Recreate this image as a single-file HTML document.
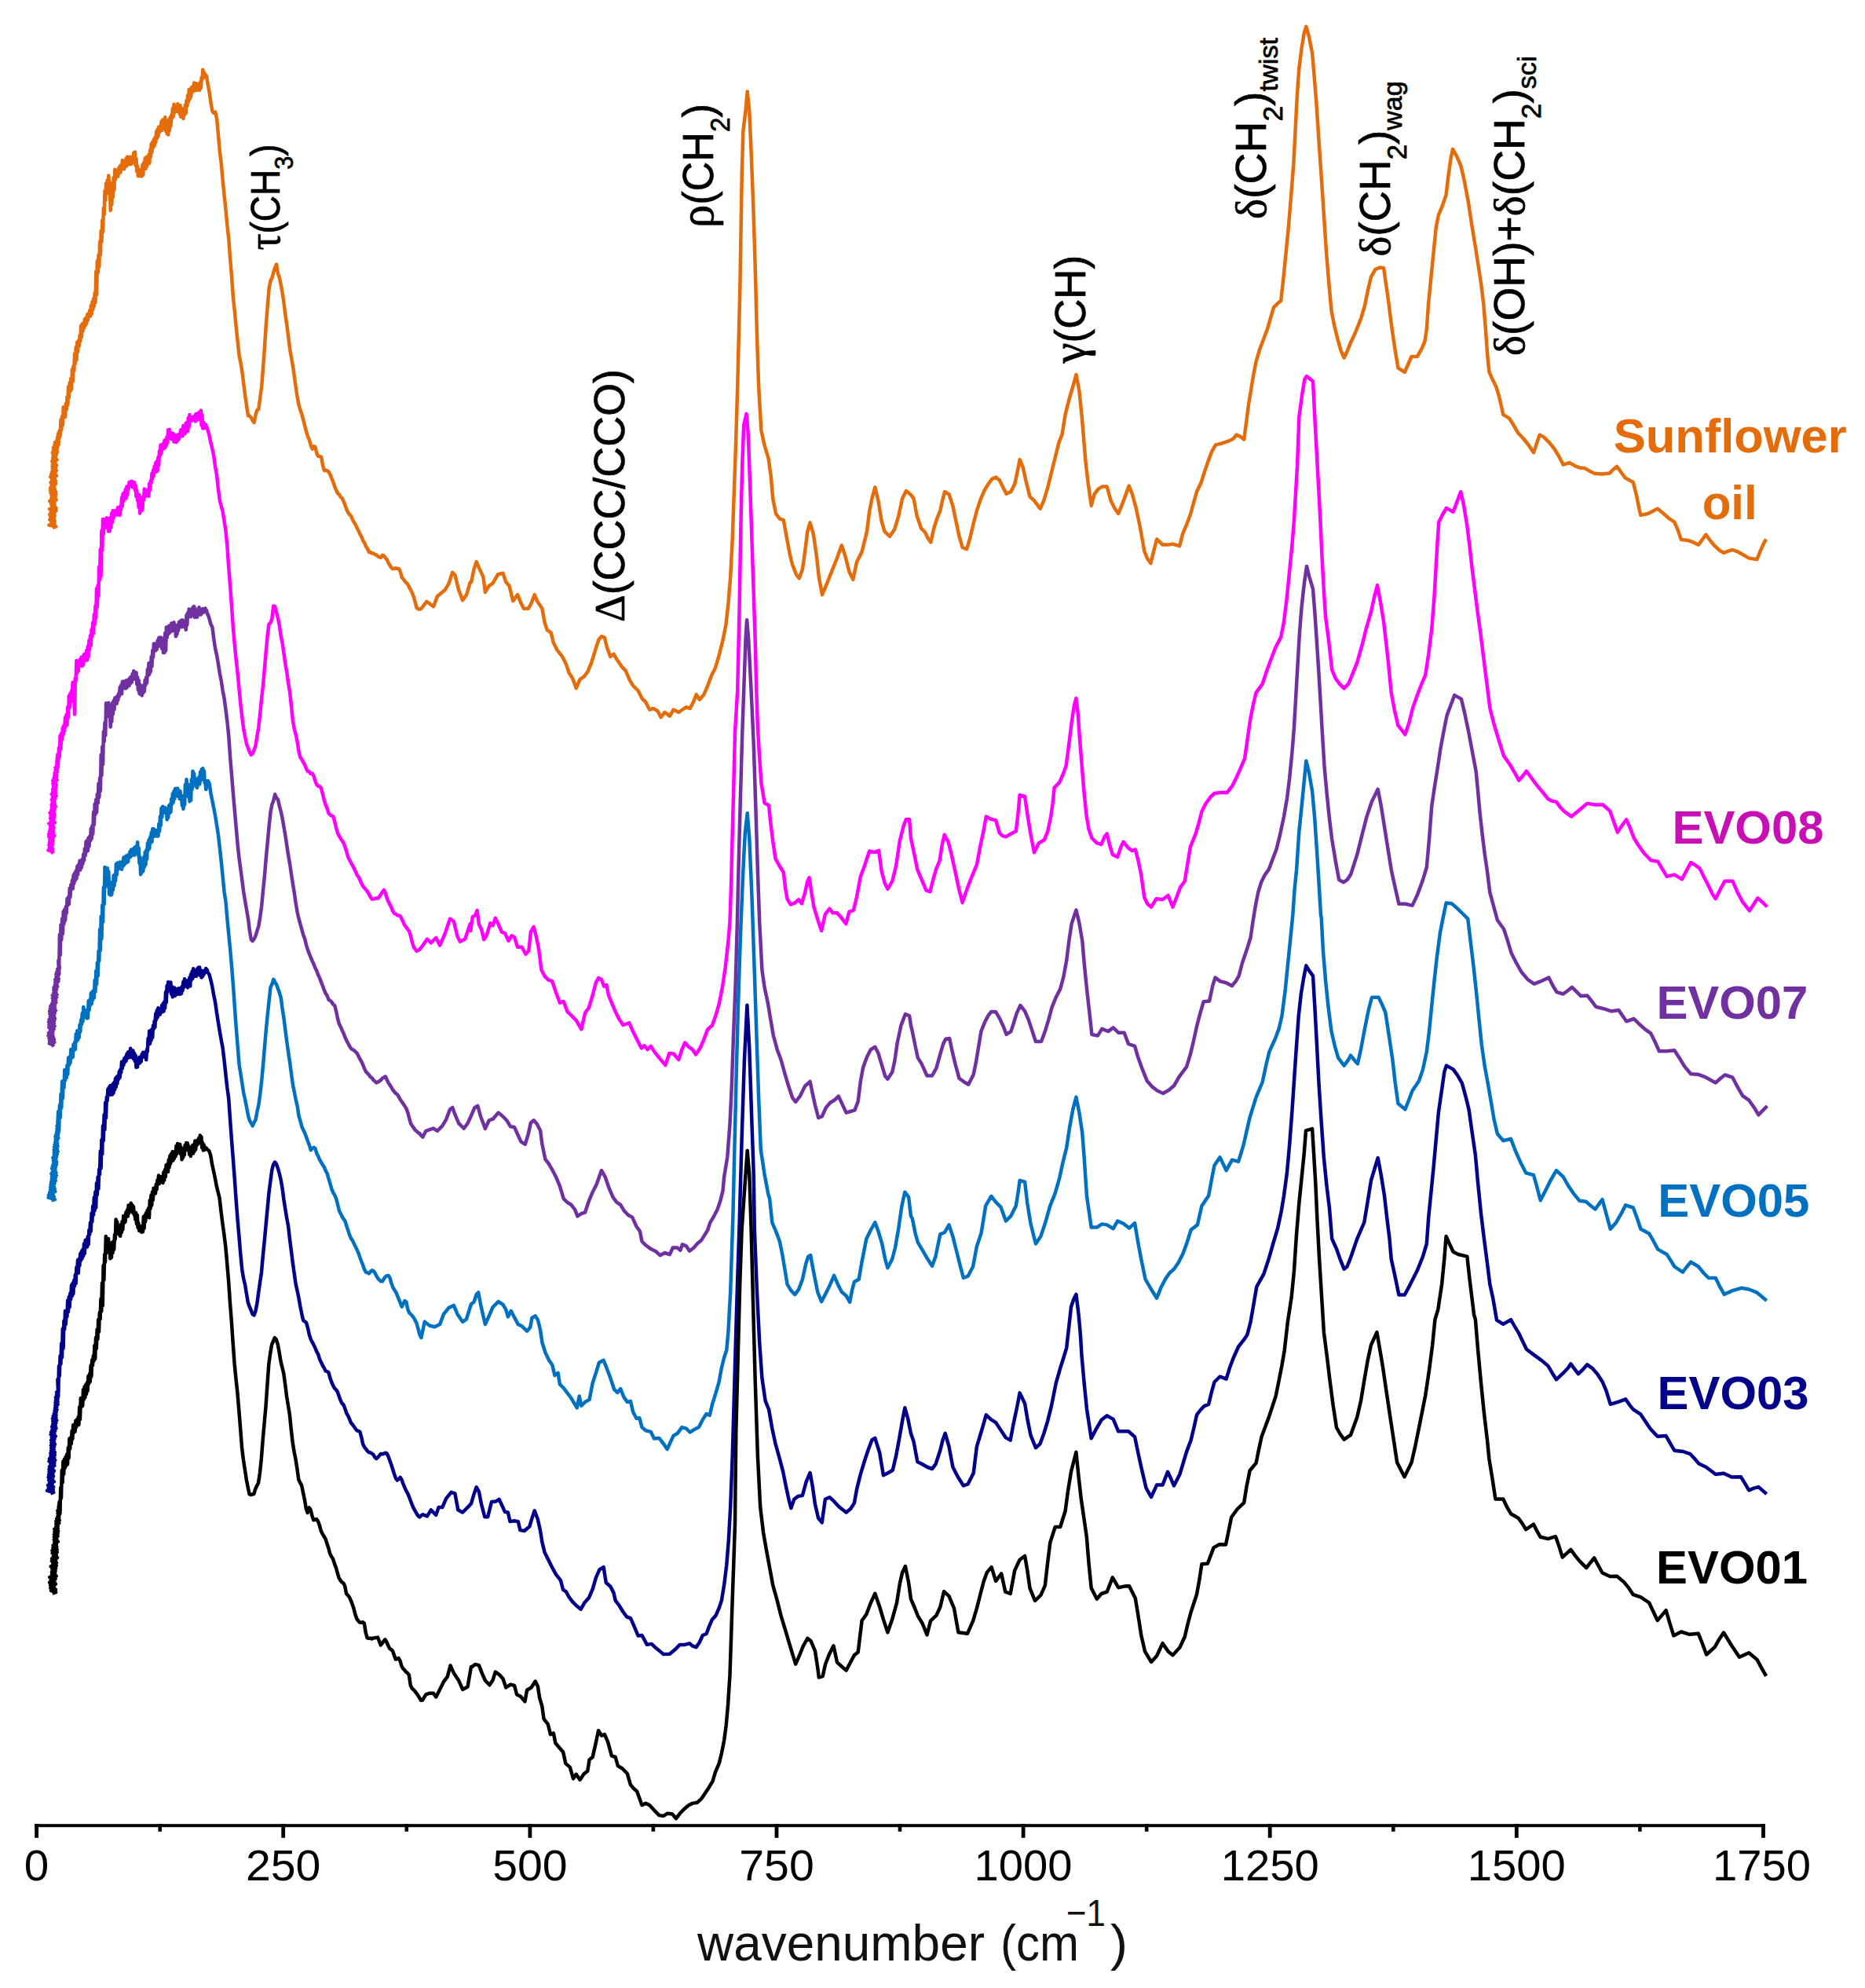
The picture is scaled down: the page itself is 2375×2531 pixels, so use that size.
<!DOCTYPE html>
<html><head><meta charset="utf-8"><title>Raman spectra</title><style>
html,body{margin:0;padding:0;background:#fff}
body{width:2375px;height:2531px;overflow:hidden}
svg{display:block;font-family:"Liberation Sans",sans-serif}
</style></head><body><svg width="2375" height="2531" viewBox="0 0 2375 2531">
<rect width="2375" height="2531" fill="#fff"/>
<g id="curves">
<path d="M66.9 672.0 L71.2 670.4 L62.4 668.5 L69.6 666.9 L65.2 665.2 L69.8 663.6 L63.3 661.7 L69.0 660.1 L64.2 658.3 L69.6 656.7 L63.2 654.9 L69.6 653.3 L64.7 651.6 L71.5 650.0 L63.0 648.1 L71.5 646.6 L65.8 644.8 L69.7 643.1 L64.9 641.4 L69.5 639.7 L63.2 637.9 L71.8 636.4 L65.3 634.6 L70.7 633.0 L65.6 631.2 L71.3 629.6 L64.5 627.7 L71.1 626.2 L64.1 624.3 L69.8 622.7 L64.2 620.9 L69.4 619.3 L65.5 617.6 L70.9 616.0 L64.5 614.1 L71.0 612.6 L66.0 610.8 L69.9 609.1 L64.2 607.3 L72.1 605.8 L65.1 604.0 L70.4 602.4 L66.2 600.6 L71.9 599.0 L66.8 597.2 L71.0 595.6 L66.6 593.8 L72.0 592.2 L66.8 590.4 L70.4 588.8 L66.3 587.0 L72.6 585.4 L67.1 583.3 L70.9 582.3 L67.7 580.0 L71.8 579.0 L66.8 576.4 L73.0 575.8 L67.9 573.1 L72.8 572.3 L68.0 569.7 L73.5 568.9 L69.4 566.2 L74.8 566.0 L70.2 562.9 L75.1 562.5 L72.6 560.1 L75.2 559.0 L73.1 556.7 L76.5 555.9 L73.9 553.4 L75.9 548.3 L76.7 553.3 L77.5 534.3 L78.3 547.2 L79.1 530.1 L79.9 541.2 L80.7 518.3 L81.5 530.1 L82.3 519.5 L83.1 530.8 L83.9 513.7 L84.7 521.3 L85.5 505.2 L86.3 515.7 L87.1 492.3 L87.9 506.1 L88.7 487.3 L89.5 498.1 L90.3 481.8 L91.1 495.8 L91.9 470.3 L92.7 485.8 L93.5 465.9 L94.3 472.2 L95.1 450.3 L95.9 463.2 L96.7 442.0 L97.5 458.6 L98.3 435.4 L99.1 448.1 L99.9 433.8 L100.7 440.5 L101.5 427.1 L102.3 434.4 L103.1 414.6 L103.9 429.1 L104.7 412.3 L105.5 421.6 L106.3 411.5 L107.1 417.5 L107.9 406.2 L108.7 414.2 L109.5 404.6 L110.3 411.8 L111.1 400.6 L111.9 407.6 L112.7 399.1 L113.5 402.4 L114.3 394.9 L115.1 402.6 L115.9 389.0 L116.7 399.7 L117.5 384.2 L118.3 394.0 L119.1 380.2 L119.9 389.9 L120.7 372.9 L121.5 385.2 L122.3 345.6 L123.1 375.1 L123.9 332.2 L124.7 347.1 L125.5 324.7 L126.3 339.6 L127.1 307.5 L127.9 324.6 L128.7 293.9 L129.5 308.0 L130.3 280.6 L131.1 295.1 L131.9 264.9 L132.7 273.3 L133.5 242.7 L134.3 255.2 L135.1 233.5 L135.9 246.7 L136.7 229.3 L137.5 236.7 L138.3 223.6 L139.1 234.5 L139.9 235.2 L140.7 268.0 L141.5 247.7 L142.3 260.5 L143.1 232.6 L143.9 250.9 L144.7 226.0 L145.5 241.9 L146.3 215.7 L147.1 228.1 L147.9 217.6 L148.7 224.7 L149.5 218.5 L150.3 224.5 L151.1 213.9 L151.9 220.6 L152.7 211.2 L153.5 219.5 L154.3 210.0 L155.1 215.1 L155.9 204.0 L156.7 213.3 L157.5 205.7 L158.3 215.3 L159.1 206.1 L159.9 209.4 L160.7 201.4 L161.5 211.2 L162.3 199.6 L163.1 206.8 L163.9 200.2 L164.7 209.1 L165.5 199.8 L166.3 209.0 L167.1 202.8 L167.9 208.5 L168.7 199.7 L169.5 203.6 L170.3 194.4 L171.1 199.1 L171.9 193.4 L172.7 211.0 L173.5 202.3 L174.3 218.4 L175.1 211.2 L175.9 224.2 L176.7 216.7 L177.5 223.2 L178.3 216.1 L179.1 224.3 L179.9 216.0 L180.7 224.4 L181.5 209.8 L182.3 222.7 L183.1 207.2 L183.9 213.7 L184.7 201.6 L185.5 214.8 L186.3 200.1 L187.1 211.7 L187.9 201.1 L188.7 206.2 L189.5 196.8 L190.3 207.9 L191.1 191.1 L191.9 199.7 L192.7 183.3 L193.5 193.9 L194.3 180.6 L195.1 187.9 L195.9 177.4 L196.7 185.5 L197.5 175.0 L198.3 181.4 L199.1 167.6 L199.9 176.0 L200.7 164.4 L201.5 173.6 L202.3 161.4 L203.1 168.3 L203.9 160.7 L204.7 165.5 L205.5 154.8 L206.3 166.0 L207.1 152.5 L207.9 162.3 L208.7 153.1 L209.5 160.8 L210.3 149.3 L211.1 167.0 L211.9 160.2 L212.7 170.3 L213.5 161.1 L214.3 171.6 L215.1 152.2 L215.9 166.1 L216.7 149.4 L217.5 160.4 L218.3 146.3 L219.1 150.8 L219.9 138.2 L220.7 148.4 L221.5 132.7 L222.3 143.6 L223.1 136.6 L223.9 142.0 L224.7 135.5 L225.5 140.1 L226.3 132.2 L227.1 142.3 L227.9 134.8 L228.7 145.4 L229.5 134.1 L230.3 148.8 L231.1 137.9 L231.9 147.5 L232.7 140.8 L233.5 151.0 L234.3 138.4 L235.1 146.1 L235.9 133.8 L236.7 144.2 L237.5 128.1 L238.3 135.2 L239.1 121.5 L239.9 129.8 L240.7 114.1 L241.5 126.7 L242.3 113.7 L243.1 123.2 L243.9 111.2 L244.7 117.4 L245.5 109.9 L246.3 115.8 L247.1 105.5 L247.9 115.4 L248.7 106.5 L249.5 112.1 L250.3 106.2 L251.1 114.7 L251.9 108.6 L252.7 113.7 L253.5 107.6 L254.3 114.7 L255.1 104.4 L255.9 111.9 L256.7 98.5 L257.5 101.2 L258.3 88.8 L259.1 95.7 L259.9 92.0 L260.7 98.5 L261.5 94.6 L262.3 98.0 L263.1 96.8 L263.9 102.9 L264.7 107.3 L266.6 117.1 L268.5 130.6 L270.4 141.4 L272.3 143.9 L274.2 142.6 L276.1 151.2 L278.0 171.9 L279.9 193.4 L281.8 208.2 L283.7 230.1 L285.6 249.0 L287.5 266.8 L289.4 287.1 L291.3 304.7 L293.2 329.9 L295.1 352.9 L297.0 379.0 L298.9 396.9 L300.8 417.2 L302.7 435.0 L304.6 452.7 L306.5 462.0 L308.4 473.6 L310.3 489.1 L312.2 503.8 L314.1 516.7 L316.0 529.3 L317.9 529.5 L319.8 531.8 L321.7 535.5 L323.6 537.9 L325.5 528.0 L327.4 522.1 L329.3 520.9 L331.2 507.0 L333.1 492.8 L335.0 469.2 L336.9 443.0 L338.8 413.6 L340.7 389.8 L342.6 367.2 L344.5 357.6 L346.4 353.9 L348.3 346.7 L350.2 340.8 L352.1 336.5 L354.0 348.6 L355.9 353.8 L357.8 363.0 L359.7 373.3 L361.6 386.5 L363.5 401.7 L365.4 414.5 L367.3 429.4 L369.2 444.6 L371.1 455.6 L373.0 466.4 L374.9 479.8 L376.8 493.8 L378.7 506.0 L380.6 515.9 L382.5 522.2 L384.4 527.6 L386.3 534.8 L388.2 542.1 L390.1 549.4 L392.0 555.9 L393.9 560.0 L395.8 567.4 L397.7 571.7 L399.6 568.1 L401.5 569.2 L403.4 577.6 L405.3 580.7 L407.2 581.1 L409.1 581.7 L411.0 592.1 L412.9 598.9 L414.8 598.7 L416.7 599.1 L418.6 600.8 L420.5 604.1 L422.4 609.1 L424.3 613.5 L426.2 619.5 L428.1 623.9 L430.0 628.0 L431.9 629.4 L433.8 632.8 L435.7 634.3 L437.6 638.4 L439.5 643.2 L441.4 648.5 L443.3 652.7 L445.2 655.2 L447.1 656.9 L449.0 661.6 L450.9 665.0 L452.8 668.1 L454.7 672.3 L456.6 675.9 L458.5 680.0 L460.4 683.5 L462.3 688.4 L464.2 691.1 L466.1 695.9 L468.0 698.5 L469.9 703.0 L471.8 703.0 L473.7 704.6 L475.6 704.6 L477.5 705.9 L479.4 706.5 L481.3 708.3 L483.2 709.4 L485.1 709.9 L487.0 706.8 L488.9 707.5 L490.8 710.2 L492.7 712.5 L494.6 716.6 L496.5 719.8 L498.4 722.7 L500.3 724.3 L502.2 723.8 L504.1 723.6 L506.0 723.7 L507.9 724.1 L509.8 727.8 L511.7 735.1 L513.6 737.0 L515.5 740.0 L517.4 741.9 L519.3 744.0 L521.2 747.7 L523.1 751.3 L525.0 755.0 L526.9 760.1 L528.8 767.2 L530.7 774.1 L532.6 775.2 L534.5 775.7 L536.4 774.6 L538.3 772.4 L543.3 765.8 L552.0 772.2 L556.9 759.3 L566.5 751.3 L571.4 743.2 L576.2 728.8 L579.4 732.0 L584.2 751.3 L589.1 764.2 L593.9 757.7 L598.7 741.6 L600.2 741.0 L603.5 724.9 L606.7 715.2 L610.9 724.9 L615.4 734.5 L617.9 753.9 L622.8 745.8 L627.6 742.6 L634.0 731.3 L640.5 729.7 L644.3 741.0 L648.5 745.8 L653.3 765.1 L659.1 757.1 L663.0 766.7 L666.9 774.8 L672.7 774.8 L676.5 768.3 L680.7 757.1 L683.9 765.1 L690.4 774.8 L693.6 792.5 L696.8 802.1 L701.6 805.4 L704.8 818.2 L709.7 827.9 L716.1 835.9 L720.9 845.6 L724.8 856.9 L729.0 863.3 L733.8 876.2 L738.6 864.9 L743.5 861.7 L748.3 855.3 L753.1 844.0 L758.0 827.9 L762.1 815.0 L766.0 810.2 L769.9 811.8 L773.1 824.7 L777.3 835.9 L781.5 832.7 L785.3 839.2 L791.8 848.8 L796.6 853.6 L801.4 864.9 L806.2 873.0 L812.7 879.4 L817.5 889.1 L822.3 893.9 L827.2 903.5 L832.0 901.9 L837.5 905.2 L841.7 913.2 L846.5 906.8 L852.9 911.6 L857.7 903.5 L864.2 906.8 L869.0 903.5 L873.8 900.3 L878.7 901.9 L882.9 893.9 L886.7 884.2 L890.9 890.7 L896.4 884.2 L901.2 873.0 L906.0 860.1 L910.9 850.4 L915.7 834.3 L920.5 815.0 L924.4 795.7 L927.6 766.7 L930.2 734.5 L932.7 686.3 L935.0 621.9 L937.3 557.5 L939.2 493.1 L940.8 428.8 L942.4 364.4 L944.7 225.3 L946.3 167.4 L949.5 141.6 L951.7 116.5 L954.3 141.6 L956.6 193.1 L959.1 257.5 L960.8 309.0 L962.4 364.4 L964.0 428.8 L966.2 493.1 L969.4 547.9 L973.6 567.2 L978.5 583.3 L981.7 605.8 L984.2 634.8 L988.1 654.1 L992.9 660.5 L997.8 662.1 L1001.6 683.0 L1005.8 705.6 L1009.0 718.5 L1013.9 731.3 L1017.7 736.2 L1021.9 724.9 L1025.1 702.4 L1028.3 676.6 L1031.6 665.3 L1035.8 679.8 L1039.6 705.6 L1042.8 734.5 L1047.0 757.1 L1052.5 744.2 L1058.9 728.1 L1065.4 712.0 L1071.8 694.3 L1076.6 708.8 L1081.5 728.1 L1086.3 737.8 L1091.1 715.2 L1097.6 702.4 L1104.0 676.6 L1107.2 650.9 L1110.4 634.8 L1114.3 620.3 L1118.5 638.0 L1122.7 663.7 L1126.5 676.6 L1133.0 683.0 L1139.4 673.4 L1144.2 657.3 L1149.1 634.8 L1153.9 625.1 L1160.0 629.9 L1163.5 634.7 L1167.6 656.6 L1173.1 672.7 L1177.9 677.5 L1181.8 685.5 L1185.3 690.4 L1189.2 672.7 L1193.4 659.8 L1197.3 650.1 L1200.5 635.6 L1203.0 626.0 L1208.5 629.2 L1213.3 643.7 L1216.6 659.8 L1221.4 682.3 L1225.6 696.8 L1231.1 699.1 L1235.2 685.5 L1239.7 666.2 L1243.9 650.1 L1248.8 635.6 L1253.6 624.4 L1258.4 616.3 L1263.2 609.9 L1268.1 607.6 L1272.9 611.5 L1277.7 621.2 L1281.6 628.6 L1287.4 626.0 L1292.2 616.3 L1295.4 601.8 L1298.6 585.1 L1302.8 595.4 L1306.7 613.1 L1311.5 632.4 L1317.0 637.3 L1324.7 647.6 L1329.2 637.3 L1334.1 621.2 L1338.9 601.8 L1343.7 582.5 L1348.5 563.2 L1352.4 553.6 L1356.6 527.9 L1361.4 508.6 L1366.2 492.5 L1370.4 477.0 L1374.3 497.3 L1377.5 527.9 L1379.4 550.4 L1382.3 585.8 L1385.6 614.7 L1389.7 643.7 L1393.6 629.2 L1398.4 622.8 L1403.3 619.5 L1409.7 619.5 L1414.5 637.3 L1419.4 646.9 L1424.2 654.0 L1429.0 642.1 L1433.8 629.2 L1437.7 618.6 L1441.9 629.2 L1446.7 646.9 L1451.5 669.4 L1457.3 701.6 L1461.2 711.3 L1465.4 717.1 L1469.2 701.6 L1473.1 686.5 L1477.3 690.4 L1480.5 693.6 L1487.0 693.6 L1493.4 692.6 L1502.1 695.2 L1506.3 679.1 L1511.1 667.8 L1515.9 655.0 L1520.8 637.3 L1524.0 626.0 L1529.4 614.7 L1533.6 601.8 L1538.5 587.4 L1543.3 574.5 L1548.1 566.4 L1554.5 564.9 L1564.2 561.7 L1570.6 558.5 L1574.5 553.6 L1578.7 555.3 L1584.2 559.4 L1586.7 540.8 L1590.0 515.0 L1593.2 495.7 L1596.4 476.4 L1599.6 460.3 L1604.4 444.2 L1609.3 431.3 L1614.1 418.5 L1618.3 404.0 L1622.1 391.1 L1627.0 386.3 L1631.2 383.0 L1634.4 354.1 L1637.6 321.9 L1640.8 289.7 L1644.0 251.1 L1647.3 209.2 L1649.5 167.4 L1651.8 122.3 L1654.3 86.9 L1657.6 61.2 L1660.8 41.8 L1663.3 33.8 L1666.6 45.1 L1671.1 67.6 L1673.6 96.6 L1676.2 128.8 L1679.4 177.0 L1682.7 225.3 L1685.9 273.6 L1689.1 321.9 L1692.3 360.5 L1695.5 395.9 L1699.4 415.2 L1703.3 431.3 L1707.4 445.8 L1711.6 455.5 L1715.5 447.4 L1720.0 436.2 L1726.7 421.7 L1733.1 405.6 L1737.9 389.5 L1741.8 370.2 L1746.0 352.5 L1751.5 342.8 L1757.3 340.6 L1762.1 341.2 L1765.3 363.7 L1768.5 386.3 L1771.7 412.0 L1775.9 441.0 L1780.4 468.3 L1788.8 473.8 L1793.3 463.5 L1797.5 453.9 L1804.9 453.9 L1810.4 444.2 L1814.5 434.5 L1816.8 418.5 L1819.1 386.3 L1822.3 354.1 L1825.5 321.9 L1828.7 289.7 L1831.9 273.6 L1836.1 263.9 L1841.6 247.9 L1844.2 225.3 L1847.4 202.8 L1850.0 189.9 L1855.4 199.6 L1860.3 210.8 L1865.1 231.8 L1869.9 257.5 L1873.8 283.3 L1878.0 309.0 L1882.1 334.8 L1886.0 360.5 L1889.2 386.3 L1891.8 418.5 L1894.1 450.6 L1896.3 473.2 L1900.5 482.8 L1905.3 492.5 L1909.2 505.4 L1914.3 527.9 L1922.1 532.7 L1927.2 540.8 L1932.7 550.4 L1940.1 558.5 L1946.5 566.5 L1953.0 576.2 L1956.8 564.9 L1960.7 553.6 L1966.5 556.9 L1972.9 563.3 L1979.4 571.4 L1985.2 581.0 L1990.6 591.6 L1998.7 589.1 L2005.1 592.9 L2011.5 595.5 L2018.0 596.1 L2023.8 599.4 L2030.9 602.9 L2040.5 603.5 L2049.5 602.6 L2054.0 598.1 L2058.9 593.9 L2063.7 600.2 L2069.5 608.3 L2074.3 610.9 L2079.8 614.1 L2084.0 630.8 L2087.2 646.9 L2089.4 655.9 L2098.5 654.0 L2104.9 650.8 L2110.7 647.6 L2117.8 653.3 L2125.8 660.4 L2132.3 664.6 L2137.1 675.9 L2140.9 687.1 L2150.0 688.1 L2156.4 690.4 L2162.8 693.6 L2167.7 687.1 L2172.5 680.7 L2178.3 688.8 L2183.8 695.2 L2190.2 701.0 L2195.0 703.9 L2200.8 701.6 L2206.3 700.0 L2212.7 702.3 L2220.1 706.5 L2227.2 710.6 L2237.5 712.3 L2241.7 701.6 L2245.9 692.0 L2249.1 686.5" fill="none" stroke="#E46C0A" stroke-width="4.5" stroke-linejoin="round" stroke-linecap="butt"/>
<path d="M64.4 1086.1 L67.0 1084.5 L61.4 1082.5 L67.2 1081.1 L62.8 1079.2 L66.3 1077.6 L62.4 1075.7 L67.2 1074.3 L63.0 1072.4 L67.4 1070.9 L63.3 1069.0 L67.6 1067.5 L62.3 1065.5 L69.4 1064.2 L62.1 1062.1 L68.3 1060.7 L62.8 1058.8 L68.1 1057.3 L63.8 1055.4 L68.5 1053.9 L64.0 1052.0 L67.7 1050.5 L62.3 1048.5 L69.9 1047.2 L64.8 1045.2 L68.4 1043.7 L64.1 1041.8 L69.2 1040.4 L64.5 1038.4 L69.6 1037.0 L63.5 1034.9 L68.8 1033.5 L65.2 1031.6 L69.7 1030.2 L65.7 1028.2 L70.8 1026.8 L65.6 1024.8 L69.8 1023.4 L66.5 1021.5 L69.4 1019.9 L65.8 1018.0 L70.5 1016.6 L67.0 1014.7 L71.6 1013.3 L65.7 1011.2 L71.1 1009.8 L67.1 1007.9 L70.7 1006.4 L67.1 1004.5 L71.2 1003.0 L67.9 1001.1 L71.7 999.6 L67.3 997.5 L71.0 996.3 L67.2 994.0 L72.7 993.1 L68.5 990.8 L72.2 989.6 L69.3 987.5 L72.4 986.2 L69.6 984.1 L72.7 982.8 L70.6 980.8 L72.9 979.4 L70.4 977.3 L74.1 976.1 L72.1 974.1 L74.0 972.7 L72.4 970.8 L73.4 960.4 L74.2 969.9 L75.0 951.9 L75.8 964.2 L76.6 936.4 L77.4 953.8 L78.2 933.5 L79.0 941.7 L79.8 926.6 L80.6 935.5 L81.4 923.6 L82.2 930.8 L83.0 913.5 L83.8 924.9 L84.6 909.8 L85.4 923.2 L86.2 900.3 L87.0 913.9 L87.8 886.1 L88.6 901.5 L89.4 883.0 L90.2 893.9 L91.0 879.7 L91.8 888.3 L92.6 868.8 L93.4 882.5 L94.2 873.1 L95.0 909.4 L95.8 863.4 L96.6 866.6 L97.4 840.9 L98.2 857.4 L99.0 848.2 L99.8 854.5 L100.6 841.8 L101.4 847.4 L102.2 839.0 L103.0 847.3 L103.8 836.4 L104.6 848.1 L105.4 835.8 L106.2 846.0 L107.0 833.1 L107.8 840.6 L108.6 833.0 L109.4 837.4 L110.2 827.9 L111.0 840.5 L111.8 823.0 L112.6 836.6 L113.4 815.2 L114.2 827.0 L115.0 809.2 L115.8 821.8 L116.6 801.2 L117.4 810.7 L118.2 792.5 L119.0 806.8 L119.8 782.2 L120.6 795.4 L121.4 771.8 L122.2 786.9 L123.0 749.0 L123.8 773.3 L124.6 745.6 L125.4 759.1 L126.2 721.5 L127.0 738.3 L127.8 699.3 L128.6 733.6 L129.4 675.5 L130.2 701.2 L131.0 660.9 L131.8 680.1 L132.6 661.6 L133.4 672.1 L134.2 661.2 L135.0 664.5 L135.8 659.3 L136.6 671.9 L137.4 659.9 L138.2 676.7 L139.0 671.9 L139.8 676.2 L140.6 659.3 L141.4 671.6 L142.2 653.6 L143.0 665.2 L143.8 650.0 L144.6 659.8 L145.4 650.8 L146.2 655.7 L147.0 651.4 L147.8 654.7 L148.6 649.1 L149.4 655.6 L150.2 646.1 L151.0 655.1 L151.8 647.2 L152.6 655.9 L153.4 644.4 L154.2 648.3 L155.0 633.6 L155.8 644.5 L156.6 628.4 L157.4 637.8 L158.2 626.9 L159.0 635.6 L159.8 622.9 L160.6 634.3 L161.4 619.6 L162.2 630.4 L163.0 618.7 L163.8 622.3 L164.6 613.8 L165.4 618.1 L166.2 613.4 L167.0 617.5 L167.8 612.6 L168.6 620.2 L169.4 614.9 L170.2 618.5 L171.0 614.0 L171.8 623.7 L172.6 617.7 L173.4 632.1 L174.2 624.2 L175.0 637.1 L175.8 630.1 L176.6 645.9 L177.4 630.1 L178.2 653.5 L179.0 642.7 L179.8 649.1 L180.6 635.5 L181.4 649.4 L182.2 632.2 L183.0 636.7 L183.8 622.6 L184.6 632.4 L185.4 624.9 L186.2 630.9 L187.0 623.8 L187.8 631.0 L188.6 623.3 L189.4 631.7 L190.2 615.8 L191.0 624.0 L191.8 612.1 L192.6 615.0 L193.4 603.1 L194.2 609.7 L195.0 598.7 L195.8 606.2 L196.6 594.0 L197.4 600.0 L198.2 589.2 L199.0 600.7 L199.8 587.1 L200.6 599.4 L201.4 581.9 L202.2 592.7 L203.0 574.2 L203.8 580.5 L204.6 566.4 L205.4 577.5 L206.2 565.9 L207.0 571.9 L207.8 564.9 L208.6 571.0 L209.4 560.7 L210.2 570.0 L211.0 559.4 L211.8 567.6 L212.6 555.9 L213.4 563.8 L214.2 547.3 L215.0 557.8 L215.8 546.8 L216.6 558.1 L217.4 550.9 L218.2 559.1 L219.0 551.3 L219.8 559.3 L220.6 551.9 L221.4 562.5 L222.2 556.3 L223.0 562.5 L223.8 554.0 L224.6 562.9 L225.4 556.6 L226.2 561.0 L227.0 553.3 L227.8 559.2 L228.6 552.4 L229.4 556.2 L230.2 547.3 L231.0 553.6 L231.8 546.8 L232.6 555.1 L233.4 541.9 L234.2 551.8 L235.0 543.9 L235.8 551.9 L236.6 539.1 L237.4 548.0 L238.2 537.6 L239.0 549.2 L239.8 532.1 L240.6 544.2 L241.4 528.0 L242.2 536.6 L243.0 531.3 L243.8 535.8 L244.6 531.4 L245.4 534.2 L246.2 530.9 L247.0 534.8 L247.8 529.7 L248.6 536.5 L249.4 527.0 L250.2 535.1 L251.0 527.1 L251.8 534.4 L252.6 525.7 L253.4 529.6 L254.2 524.5 L255.0 531.0 L255.8 522.6 L256.6 541.6 L257.4 528.2 L258.2 545.5 L259.0 537.5 L259.8 545.1 L260.6 539.9 L261.4 544.4 L262.2 540.6 L263.0 545.1 L263.8 544.3 L264.6 547.6 L266.5 554.1 L268.4 563.5 L270.3 571.2 L272.2 580.4 L274.1 594.1 L276.0 604.3 L277.9 622.4 L279.8 636.7 L281.7 644.3 L283.6 651.1 L285.5 662.8 L287.4 675.4 L289.3 694.6 L291.2 722.2 L293.1 745.6 L295.0 771.9 L296.9 799.4 L298.8 820.8 L300.7 840.1 L302.6 857.1 L304.5 876.7 L306.4 897.1 L308.3 913.2 L310.2 928.0 L312.1 937.8 L314.0 947.2 L315.9 952.1 L317.8 957.5 L319.7 961.0 L321.6 959.3 L323.5 954.9 L325.4 949.8 L327.3 937.9 L329.2 926.6 L331.1 909.8 L333.0 890.0 L334.9 873.2 L336.8 852.0 L338.7 830.2 L340.6 809.5 L342.5 794.6 L344.4 792.9 L346.3 788.1 L348.2 771.4 L350.1 772.0 L352.0 779.2 L353.9 786.8 L355.8 796.2 L357.7 809.5 L359.6 819.0 L361.5 831.9 L363.4 845.7 L365.3 856.3 L367.2 870.1 L369.1 881.2 L371.0 898.9 L372.9 917.8 L374.8 928.1 L376.7 935.4 L378.6 944.3 L380.5 956.9 L382.4 964.2 L384.3 966.7 L386.2 970.4 L388.1 973.7 L390.0 978.4 L391.9 982.2 L393.8 982.5 L395.7 985.1 L397.6 984.7 L399.5 987.9 L401.4 994.4 L403.3 999.1 L405.2 1000.7 L407.1 1001.2 L409.0 1003.7 L410.9 1011.0 L412.8 1018.8 L414.7 1024.8 L416.6 1029.0 L418.5 1035.4 L420.4 1037.2 L422.3 1038.7 L424.2 1039.3 L426.1 1045.2 L428.0 1053.7 L429.9 1060.4 L431.8 1064.1 L433.7 1067.4 L435.6 1070.3 L437.5 1073.2 L439.4 1078.3 L441.3 1084.0 L443.2 1091.0 L445.1 1094.7 L447.0 1098.5 L448.9 1101.8 L450.8 1105.4 L452.7 1109.3 L454.6 1113.8 L456.5 1116.3 L458.4 1120.3 L460.3 1124.8 L462.2 1128.3 L464.1 1130.5 L466.0 1132.6 L467.9 1135.1 L469.8 1138.2 L471.7 1142.1 L473.6 1144.6 L475.5 1144.4 L477.4 1144.3 L479.3 1143.4 L481.2 1143.7 L483.1 1141.7 L485.0 1138.8 L486.9 1135.9 L488.8 1133.2 L490.7 1136.5 L492.6 1143.0 L494.5 1147.5 L496.4 1151.5 L498.3 1155.1 L500.2 1159.8 L502.1 1162.9 L504.0 1163.6 L505.9 1165.2 L507.8 1165.5 L509.7 1166.2 L511.6 1169.9 L513.5 1173.8 L515.4 1178.3 L517.3 1180.3 L519.2 1183.3 L521.1 1185.6 L523.0 1191.7 L524.9 1199.6 L526.8 1205.6 L528.7 1208.3 L530.6 1210.8 L532.5 1210.0 L534.4 1208.6 L536.3 1206.3 L538.2 1204.1 L544.0 1195.5 L548.8 1200.3 L555.3 1193.9 L560.1 1203.5 L566.5 1189.1 L573.0 1169.7 L577.8 1173.0 L582.6 1192.3 L585.8 1198.7 L592.3 1195.5 L598.7 1176.2 L599.3 1184.9 L601.8 1167.2 L605.1 1165.6 L607.6 1159.1 L609.9 1176.8 L613.1 1183.3 L616.3 1196.1 L619.5 1191.3 L624.4 1175.2 L627.6 1178.4 L630.8 1168.8 L634.7 1176.8 L638.9 1186.5 L643.0 1188.1 L647.6 1197.7 L651.7 1191.3 L655.0 1192.9 L659.1 1205.8 L664.6 1205.8 L669.4 1214.8 L673.3 1210.6 L675.9 1186.5 L679.7 1180.0 L683.0 1192.9 L686.2 1209.0 L689.4 1234.8 L693.6 1242.8 L698.4 1247.6 L703.2 1249.2 L708.1 1263.7 L712.9 1276.6 L717.7 1275.0 L722.6 1287.9 L727.4 1292.7 L733.8 1299.1 L740.3 1310.4 L745.1 1289.5 L749.9 1283.0 L754.7 1267.0 L758.9 1250.9 L762.1 1245.1 L766.0 1247.0 L769.2 1255.7 L772.4 1254.1 L775.0 1267.0 L778.9 1276.6 L783.7 1287.9 L788.5 1297.5 L793.4 1304.9 L801.4 1302.4 L806.2 1313.6 L811.1 1323.3 L816.9 1334.5 L820.7 1331.3 L824.6 1336.2 L828.8 1332.0 L833.6 1339.4 L840.0 1347.4 L847.4 1356.1 L852.3 1341.0 L857.7 1341.6 L864.2 1349.0 L868.4 1336.2 L872.2 1327.5 L877.1 1332.9 L881.9 1336.2 L886.1 1342.6 L891.5 1334.5 L896.4 1323.3 L901.2 1310.4 L907.0 1305.6 L911.5 1292.7 L915.7 1278.2 L919.9 1257.3 L923.7 1231.5 L927.0 1202.6 L929.5 1173.6 L931.1 1125.3 L932.7 1060.9 L934.4 996.6 L936.0 932.2 L939.2 879.4 L941.4 782.8 L943.7 654.1 L945.3 589.7 L947.2 541.4 L950.5 526.9 L952.7 551.1 L955.3 621.9 L958.5 718.5 L961.7 815.0 L963.3 879.4 L964.9 925.8 L966.2 948.3 L969.4 996.6 L973.6 1022.3 L979.1 1025.5 L981.0 1044.8 L984.2 1070.6 L987.5 1093.1 L992.9 1102.8 L997.8 1110.8 L1000.3 1131.8 L1002.6 1144.6 L1006.8 1151.7 L1012.3 1149.5 L1017.1 1145.3 L1020.9 1150.4 L1025.1 1136.6 L1028.3 1122.1 L1030.6 1117.3 L1033.2 1135.0 L1036.4 1154.3 L1041.2 1170.4 L1046.1 1184.9 L1050.9 1163.9 L1056.4 1156.9 L1060.5 1162.3 L1066.0 1162.3 L1071.8 1168.8 L1077.3 1176.2 L1081.5 1160.7 L1086.9 1159.1 L1091.1 1141.4 L1095.9 1115.7 L1100.8 1102.8 L1107.2 1083.5 L1113.6 1085.1 L1119.1 1082.8 L1122.7 1109.2 L1126.5 1123.7 L1130.4 1131.8 L1136.2 1122.1 L1141.0 1102.8 L1145.8 1070.6 L1150.7 1051.3 L1153.9 1043.2 L1158.1 1043.2 L1160.0 1067.4 L1164.4 1087.9 L1168.3 1107.2 L1173.1 1118.5 L1179.5 1133.6 L1184.4 1135.2 L1188.2 1120.1 L1192.4 1105.6 L1196.6 1095.9 L1199.8 1075.0 L1202.7 1062.8 L1207.6 1071.8 L1211.7 1087.9 L1216.6 1110.4 L1221.4 1133.0 L1225.6 1149.1 L1231.1 1133.0 L1235.9 1120.1 L1243.9 1100.8 L1248.8 1075.0 L1252.6 1057.3 L1255.8 1039.6 L1261.6 1042.8 L1268.1 1044.4 L1272.9 1060.5 L1276.1 1063.8 L1280.9 1065.4 L1287.4 1061.5 L1293.8 1058.3 L1296.4 1036.4 L1298.6 1012.3 L1305.1 1013.9 L1308.3 1036.4 L1312.5 1062.1 L1317.0 1085.3 L1322.8 1073.4 L1329.9 1069.2 L1334.1 1058.9 L1338.2 1039.6 L1340.5 1023.5 L1342.7 1002.6 L1349.2 996.2 L1353.4 986.5 L1357.6 975.2 L1361.4 946.3 L1364.6 920.5 L1367.9 898.0 L1370.4 889.0 L1372.7 907.6 L1374.9 939.8 L1377.5 972.0 L1380.1 1004.2 L1383.3 1036.4 L1386.5 1055.7 L1390.4 1067.0 L1396.8 1073.4 L1402.6 1075.0 L1406.5 1065.4 L1409.7 1061.5 L1412.9 1075.0 L1416.8 1087.9 L1423.2 1091.1 L1427.4 1078.2 L1430.6 1071.8 L1437.1 1079.8 L1441.9 1083.1 L1445.8 1081.5 L1449.9 1097.6 L1453.2 1113.6 L1457.3 1142.6 L1461.2 1150.7 L1466.0 1154.8 L1472.5 1144.2 L1480.5 1145.2 L1487.6 1140.0 L1493.4 1154.8 L1498.2 1142.6 L1503.0 1129.7 L1508.8 1121.7 L1512.1 1100.8 L1515.9 1078.2 L1522.4 1062.1 L1526.2 1049.3 L1530.4 1033.2 L1535.2 1023.5 L1541.7 1014.5 L1546.5 1010.0 L1554.5 1009.0 L1562.6 1009.0 L1569.0 1001.0 L1573.9 991.3 L1580.3 976.8 L1585.1 965.6 L1588.3 943.0 L1592.5 914.1 L1596.4 894.8 L1599.6 881.9 L1607.7 870.6 L1612.5 856.1 L1618.3 840.0 L1623.8 825.6 L1631.2 811.1 L1635.0 791.8 L1638.9 759.6 L1642.1 727.4 L1645.3 695.2 L1647.9 663.0 L1650.2 624.4 L1652.1 592.2 L1654.3 531.1 L1658.2 502.1 L1661.4 482.8 L1664.0 479.0 L1667.9 482.2 L1672.0 485.4 L1674.3 531.1 L1678.5 608.3 L1681.1 656.6 L1683.3 704.8 L1685.9 753.1 L1688.1 785.3 L1692.3 817.5 L1696.2 852.9 L1701.0 864.2 L1705.8 870.6 L1711.6 876.4 L1717.1 870.6 L1720.0 864.2 L1728.3 843.3 L1734.7 820.7 L1739.5 801.4 L1746.0 778.9 L1750.2 759.6 L1754.0 745.1 L1757.9 766.0 L1762.1 791.8 L1764.3 811.1 L1767.6 840.0 L1771.7 881.9 L1775.9 904.4 L1780.4 923.7 L1789.4 935.0 L1794.3 920.5 L1799.1 901.2 L1804.9 885.1 L1810.4 870.6 L1815.2 859.4 L1819.1 833.6 L1823.2 801.4 L1826.5 759.6 L1828.7 720.9 L1830.6 688.8 L1832.3 664.6 L1837.1 655.0 L1841.9 646.9 L1850.6 651.7 L1855.4 638.9 L1860.3 626.0 L1864.1 643.7 L1868.3 669.4 L1871.5 695.2 L1874.7 724.2 L1878.0 749.9 L1881.2 775.7 L1886.0 811.1 L1890.8 849.7 L1894.1 875.5 L1897.3 901.2 L1902.1 920.5 L1907.9 939.8 L1915.0 962.4 L1923.0 973.6 L1929.5 984.9 L1934.3 993.6 L1939.1 988.1 L1943.9 981.7 L1949.7 989.7 L1956.8 999.4 L1964.9 1009.0 L1971.3 1017.1 L1976.1 1019.7 L1981.9 1020.9 L1987.4 1028.3 L1992.2 1033.2 L2001.2 1039.6 L2008.3 1033.8 L2014.8 1028.3 L2021.2 1022.9 L2030.9 1024.5 L2041.2 1024.5 L2050.2 1032.5 L2055.0 1046.1 L2059.8 1059.6 L2065.6 1050.9 L2071.1 1043.5 L2075.9 1054.1 L2080.8 1067.0 L2086.2 1075.7 L2093.6 1086.3 L2102.3 1095.3 L2111.3 1096.9 L2117.1 1106.6 L2122.6 1115.9 L2132.3 1113.6 L2141.9 1119.4 L2148.3 1107.2 L2153.2 1098.2 L2158.0 1100.8 L2164.4 1105.6 L2169.3 1115.3 L2175.1 1126.5 L2180.5 1137.8 L2184.7 1144.2 L2191.2 1131.4 L2196.6 1121.7 L2206.3 1121.7 L2212.7 1136.2 L2219.2 1148.4 L2227.9 1159.4 L2233.6 1150.7 L2238.5 1143.3 L2244.9 1149.1 L2250.4 1154.5" fill="none" stroke="#FF00FF" stroke-width="4.5" stroke-linejoin="round" stroke-linecap="butt"/>
<path d="M65.3 1332.0 L67.6 1330.3 L62.8 1328.5 L69.3 1326.9 L63.0 1325.1 L69.0 1323.5 L62.5 1321.7 L68.0 1320.1 L61.5 1318.3 L67.3 1316.7 L62.0 1314.9 L67.5 1313.3 L64.0 1311.5 L68.7 1309.9 L62.3 1308.1 L69.6 1306.5 L62.4 1304.7 L68.9 1303.1 L62.0 1301.3 L69.2 1299.7 L62.6 1297.9 L70.1 1296.8 L63.9 1294.3 L69.1 1293.2 L63.3 1290.8 L69.7 1289.9 L63.1 1287.4 L70.9 1286.6 L63.8 1284.0 L70.1 1283.1 L64.3 1280.6 L70.0 1279.6 L66.4 1277.5 L71.3 1276.4 L67.3 1274.2 L71.1 1272.9 L66.8 1270.7 L72.1 1269.7 L66.8 1267.2 L72.6 1266.3 L68.3 1264.0 L71.4 1262.7 L68.5 1260.6 L72.1 1259.4 L68.5 1257.2 L73.2 1256.1 L69.9 1253.9 L72.6 1252.6 L70.3 1250.5 L74.4 1249.4 L70.2 1247.1 L74.8 1246.0 L71.5 1243.8 L73.9 1242.5 L71.4 1240.4 L75.4 1239.2 L72.4 1237.1 L75.3 1235.8 L73.2 1233.8 L75.9 1232.3 L74.3 1222.7 L75.1 1240.6 L75.9 1189.8 L76.7 1216.3 L77.5 1177.6 L78.3 1196.6 L79.1 1169.6 L79.9 1188.9 L80.7 1160.6 L81.5 1176.7 L82.3 1157.8 L83.1 1171.9 L83.9 1154.3 L84.7 1163.0 L85.5 1144.0 L86.3 1152.6 L87.1 1142.0 L87.9 1151.1 L88.7 1131.1 L89.5 1142.2 L90.3 1126.4 L91.1 1132.1 L91.9 1121.0 L92.7 1131.5 L93.5 1114.2 L94.3 1124.9 L95.1 1111.4 L95.9 1120.9 L96.7 1108.7 L97.5 1118.7 L98.3 1103.1 L99.1 1113.5 L99.9 1101.0 L100.7 1107.7 L101.5 1095.8 L102.3 1107.5 L103.1 1095.8 L103.9 1104.4 L104.7 1093.9 L105.5 1099.6 L106.3 1087.4 L107.1 1095.4 L107.9 1080.4 L108.7 1089.2 L109.5 1071.6 L110.3 1084.2 L111.1 1069.6 L111.9 1083.2 L112.7 1066.4 L113.5 1077.6 L114.3 1064.7 L115.1 1070.4 L115.9 1054.6 L116.7 1068.0 L117.5 1050.9 L118.3 1061.9 L119.1 1033.7 L119.9 1050.3 L120.7 1023.6 L121.5 1037.2 L122.3 1017.9 L123.1 1034.5 L123.9 1011.0 L124.7 1022.6 L125.5 997.4 L126.3 1015.3 L127.1 990.5 L127.9 1007.2 L128.7 961.1 L129.5 987.1 L130.3 950.6 L131.1 973.3 L131.9 931.4 L132.7 944.1 L133.5 919.9 L134.3 936.5 L135.1 895.2 L135.9 909.0 L136.7 897.6 L137.5 904.9 L138.3 894.8 L139.1 912.9 L139.9 903.1 L140.7 925.6 L141.5 912.4 L142.3 918.8 L143.1 894.8 L143.9 909.1 L144.7 892.2 L145.5 903.3 L146.3 888.6 L147.1 896.3 L147.9 887.7 L148.7 895.7 L149.5 886.0 L150.3 891.3 L151.1 882.7 L151.9 886.7 L152.7 874.9 L153.5 883.3 L154.3 872.3 L155.1 883.4 L155.9 867.7 L156.7 874.5 L157.5 867.5 L158.3 875.7 L159.1 868.9 L159.9 876.6 L160.7 866.3 L161.5 875.5 L162.3 867.6 L163.1 871.1 L163.9 865.1 L164.7 872.9 L165.5 862.8 L166.3 869.9 L167.1 861.6 L167.9 868.6 L168.7 857.8 L169.5 863.4 L170.3 854.2 L171.1 864.6 L171.9 856.0 L172.7 864.2 L173.5 856.2 L174.3 871.3 L175.1 862.3 L175.9 878.7 L176.7 866.2 L177.5 883.1 L178.3 871.5 L179.1 884.2 L179.9 876.5 L180.7 885.5 L181.5 873.7 L182.3 882.2 L183.1 872.2 L183.9 880.3 L184.7 865.7 L185.5 872.0 L186.3 862.1 L187.1 869.5 L187.9 852.0 L188.7 860.1 L189.5 844.3 L190.3 858.7 L191.1 845.1 L191.9 854.9 L192.7 836.1 L193.5 848.3 L194.3 828.1 L195.1 836.8 L195.9 819.6 L196.7 827.9 L197.5 819.4 L198.3 828.2 L199.1 820.2 L199.9 826.7 L200.7 815.3 L201.5 822.4 L202.3 812.0 L203.1 822.5 L203.9 811.5 L204.7 822.5 L205.5 811.8 L206.3 826.0 L207.1 815.9 L207.9 831.0 L208.7 822.4 L209.5 830.9 L210.3 805.9 L211.1 828.5 L211.9 798.4 L212.7 811.9 L213.5 799.0 L214.3 807.0 L215.1 796.7 L215.9 805.8 L216.7 798.0 L217.5 802.9 L218.3 793.5 L219.1 803.5 L219.9 793.8 L220.7 799.7 L221.5 792.2 L222.3 798.7 L223.1 797.9 L223.9 810.3 L224.7 796.3 L225.5 807.7 L226.3 795.8 L227.1 802.7 L227.9 792.0 L228.7 798.9 L229.5 790.7 L230.3 796.2 L231.1 789.4 L231.9 798.3 L232.7 789.4 L233.5 797.7 L234.3 790.9 L235.1 797.2 L235.9 793.5 L236.7 801.8 L237.5 782.9 L238.3 795.8 L239.1 780.3 L239.9 785.7 L240.7 775.4 L241.5 784.7 L242.3 775.9 L243.1 785.3 L243.9 777.3 L244.7 783.3 L245.5 773.2 L246.3 778.3 L247.1 772.1 L247.9 785.9 L248.7 774.8 L249.5 785.1 L250.3 780.8 L251.1 785.7 L251.9 777.1 L252.7 782.2 L253.5 773.2 L254.3 782.4 L255.1 776.2 L255.9 782.6 L256.7 775.8 L257.5 779.9 L258.3 775.0 L259.1 779.9 L259.9 776.0 L260.7 778.0 L261.5 774.5 L262.3 777.9 L263.1 777.1 L263.9 781.6 L264.7 782.0 L266.6 787.8 L268.5 794.9 L270.4 798.5 L272.3 813.8 L274.2 826.0 L276.1 834.3 L278.0 845.5 L279.9 857.7 L281.8 867.0 L283.7 879.6 L285.6 889.4 L287.5 903.6 L289.4 919.1 L291.3 937.6 L293.2 964.6 L295.1 987.7 L297.0 1010.7 L298.9 1032.7 L300.8 1054.4 L302.7 1075.7 L304.6 1093.4 L306.5 1107.3 L308.4 1121.4 L310.3 1136.1 L312.2 1147.6 L314.1 1158.6 L316.0 1169.6 L317.9 1184.7 L319.8 1196.2 L321.7 1198.0 L323.6 1195.4 L325.5 1191.4 L327.4 1185.2 L329.3 1179.4 L331.2 1167.9 L333.1 1154.0 L335.0 1134.0 L336.9 1115.3 L338.8 1092.5 L340.7 1072.5 L342.6 1052.3 L344.5 1033.9 L346.4 1024.2 L348.3 1019.2 L350.2 1011.3 L352.1 1015.8 L354.0 1018.0 L355.9 1026.5 L357.8 1033.3 L359.7 1042.3 L361.6 1053.3 L363.5 1064.4 L365.4 1077.3 L367.3 1089.6 L369.2 1100.5 L371.1 1113.8 L373.0 1125.7 L374.9 1137.4 L376.8 1150.6 L378.7 1161.7 L380.6 1169.9 L382.5 1176.8 L384.4 1183.6 L386.3 1190.4 L388.2 1195.6 L390.1 1203.3 L392.0 1209.4 L393.9 1214.4 L395.8 1219.0 L397.7 1223.5 L399.6 1227.7 L401.5 1232.4 L403.4 1236.2 L405.3 1241.5 L407.2 1245.2 L409.1 1250.7 L411.0 1255.3 L412.9 1260.7 L414.8 1264.8 L416.7 1267.7 L418.6 1272.9 L420.5 1273.7 L422.4 1275.7 L424.3 1278.7 L426.2 1280.1 L428.1 1287.4 L430.0 1296.6 L431.9 1303.6 L433.8 1307.2 L435.7 1311.8 L437.6 1315.7 L439.5 1320.7 L441.4 1324.8 L443.3 1328.5 L445.2 1332.1 L447.1 1335.0 L449.0 1336.3 L450.9 1337.2 L452.8 1339.3 L454.7 1340.9 L456.6 1344.8 L458.5 1348.5 L460.4 1351.7 L462.3 1356.0 L464.2 1360.7 L466.1 1364.5 L468.0 1366.6 L469.9 1368.4 L471.8 1371.2 L473.7 1372.4 L475.6 1375.1 L477.5 1376.7 L479.4 1378.5 L481.3 1377.5 L483.2 1376.4 L485.1 1374.9 L487.0 1372.7 L488.9 1371.7 L490.8 1370.5 L492.7 1374.4 L494.6 1378.5 L496.5 1381.5 L498.4 1384.3 L500.3 1387.6 L502.2 1390.1 L504.1 1392.1 L506.0 1393.6 L507.9 1396.5 L509.8 1399.9 L511.7 1402.7 L513.6 1405.4 L515.5 1408.4 L517.4 1411.3 L519.3 1416.5 L521.2 1423.8 L523.1 1430.4 L525.0 1433.3 L526.9 1435.9 L528.8 1438.7 L530.7 1440.4 L532.6 1442.2 L534.5 1443.1 L536.4 1445.9 L538.3 1447.7 L542.4 1439.8 L547.2 1438.2 L552.0 1436.6 L556.9 1439.8 L563.3 1433.4 L568.1 1425.3 L573.0 1412.4 L576.2 1409.9 L579.4 1418.9 L584.2 1430.2 L590.7 1436.6 L595.5 1430.2 L600.0 1420.5 L604.4 1410.2 L608.3 1407.9 L612.1 1421.5 L617.9 1436.9 L622.8 1426.3 L627.6 1424.7 L634.7 1416.6 L640.5 1421.5 L645.3 1426.3 L650.1 1434.3 L655.0 1435.0 L659.8 1445.6 L663.6 1453.6 L668.8 1456.9 L672.7 1444.0 L675.9 1429.5 L679.7 1426.3 L683.9 1431.1 L688.1 1439.2 L690.4 1456.9 L694.5 1476.2 L698.4 1481.0 L703.2 1489.1 L708.1 1498.7 L712.9 1510.0 L717.7 1526.1 L722.6 1530.9 L727.4 1533.8 L732.2 1540.2 L735.4 1548.3 L740.3 1545.1 L745.1 1543.5 L749.9 1529.0 L754.7 1517.7 L759.6 1508.0 L766.0 1490.0 L770.8 1498.7 L775.7 1512.9 L780.5 1524.1 L785.3 1530.6 L790.2 1533.8 L795.0 1541.8 L799.8 1546.7 L805.3 1549.9 L810.4 1561.2 L814.9 1567.6 L817.5 1580.5 L822.3 1585.3 L828.8 1590.1 L835.2 1593.3 L840.7 1598.2 L846.5 1595.0 L852.9 1597.2 L856.8 1588.5 L862.6 1588.5 L866.4 1591.7 L869.0 1584.3 L873.8 1586.3 L878.0 1592.7 L883.5 1588.5 L888.3 1583.0 L893.2 1578.9 L897.3 1572.4 L901.2 1566.0 L904.4 1556.3 L909.2 1548.3 L913.4 1540.2 L917.3 1529.0 L920.5 1516.1 L922.1 1498.7 L926.3 1473.0 L929.5 1431.1 L931.8 1382.8 L934.0 1318.5 L936.6 1254.1 L938.9 1173.6 L940.8 1093.1 L943.0 1012.7 L945.3 932.2 L947.2 879.4 L949.5 815.0 L951.1 789.3 L953.3 815.0 L956.6 879.4 L959.8 948.3 L962.4 1028.8 L964.9 1109.2 L967.2 1173.6 L970.4 1234.8 L973.6 1257.3 L977.8 1276.6 L981.0 1295.9 L984.9 1318.5 L989.7 1336.2 L994.5 1349.0 L999.4 1366.7 L1004.2 1382.8 L1009.0 1397.3 L1013.2 1402.8 L1018.7 1395.7 L1025.1 1382.8 L1031.6 1377.0 L1034.8 1392.5 L1038.0 1407.0 L1042.2 1423.1 L1046.7 1421.5 L1051.8 1410.2 L1057.3 1403.8 L1062.8 1400.5 L1067.9 1395.7 L1072.4 1405.4 L1077.6 1416.6 L1083.1 1415.0 L1088.5 1413.4 L1092.7 1402.1 L1095.9 1376.4 L1099.2 1358.7 L1104.0 1345.8 L1108.8 1336.2 L1114.3 1332.9 L1118.5 1341.0 L1123.3 1357.1 L1127.2 1370.0 L1130.4 1373.8 L1136.2 1365.1 L1139.4 1350.6 L1142.6 1328.1 L1147.4 1305.6 L1152.9 1291.1 L1158.1 1293.3 L1160.0 1305.6 L1161.8 1313.1 L1165.7 1332.4 L1168.9 1346.9 L1173.1 1353.4 L1180.5 1369.5 L1187.0 1369.5 L1192.4 1359.8 L1197.3 1342.1 L1201.1 1329.2 L1204.3 1322.8 L1209.2 1322.1 L1212.7 1338.9 L1216.6 1355.0 L1221.4 1372.7 L1227.8 1377.5 L1233.3 1380.7 L1239.7 1367.9 L1243.0 1351.8 L1246.2 1332.4 L1249.4 1313.1 L1254.5 1300.3 L1258.4 1293.2 L1262.3 1288.0 L1268.1 1288.3 L1272.9 1296.4 L1277.7 1306.7 L1281.6 1317.0 L1287.4 1313.1 L1290.6 1303.5 L1294.5 1290.6 L1299.3 1280.0 L1305.1 1287.4 L1309.9 1298.6 L1314.7 1313.1 L1318.9 1326.0 L1326.0 1326.0 L1330.8 1313.1 L1335.7 1297.0 L1339.5 1282.6 L1344.7 1269.7 L1350.2 1259.1 L1354.3 1243.9 L1358.2 1223.0 L1361.4 1197.3 L1364.6 1176.3 L1370.4 1158.6 L1374.3 1174.7 L1378.2 1197.3 L1380.7 1226.2 L1383.9 1258.4 L1387.2 1287.4 L1390.4 1317.0 L1397.8 1318.6 L1403.3 1309.9 L1411.3 1313.1 L1417.7 1308.3 L1424.2 1314.7 L1431.6 1314.7 L1437.1 1329.2 L1445.1 1331.8 L1449.0 1345.3 L1454.8 1361.4 L1460.6 1375.9 L1467.6 1383.9 L1474.1 1388.8 L1481.2 1392.0 L1488.6 1387.8 L1495.0 1382.3 L1501.4 1371.1 L1506.3 1364.6 L1511.1 1358.2 L1515.9 1342.1 L1519.8 1326.0 L1524.0 1306.7 L1528.2 1290.6 L1532.7 1275.2 L1540.1 1274.5 L1544.2 1255.2 L1547.5 1244.6 L1553.9 1249.4 L1561.6 1251.3 L1569.0 1255.2 L1573.9 1248.8 L1577.7 1242.3 L1581.9 1226.2 L1587.4 1210.1 L1592.5 1194.0 L1595.8 1171.5 L1599.0 1152.2 L1602.2 1136.1 L1606.1 1123.3 L1610.9 1113.6 L1615.7 1107.2 L1620.5 1094.3 L1625.4 1081.5 L1630.2 1062.1 L1635.0 1039.6 L1638.9 1017.1 L1642.1 991.3 L1645.3 959.1 L1647.9 927.0 L1650.5 881.9 L1652.7 843.3 L1655.0 804.6 L1657.6 772.4 L1660.8 743.5 L1664.0 720.9 L1667.2 733.8 L1672.0 749.9 L1674.3 778.9 L1676.9 817.5 L1679.4 856.1 L1681.7 894.8 L1683.9 933.4 L1686.5 975.2 L1689.7 1010.6 L1693.0 1042.8 L1696.2 1068.6 L1701.0 1097.6 L1705.2 1120.1 L1710.7 1123.3 L1715.5 1120.1 L1720.0 1113.6 L1728.3 1087.9 L1734.7 1062.1 L1740.5 1039.6 L1747.0 1020.3 L1754.7 1004.8 L1758.9 1026.7 L1763.0 1052.5 L1767.6 1081.5 L1771.7 1107.2 L1776.6 1129.7 L1781.4 1150.7 L1789.4 1150.7 L1798.5 1152.9 L1804.9 1139.4 L1812.0 1120.1 L1816.8 1104.0 L1820.0 1068.6 L1823.2 1026.7 L1826.5 1004.2 L1830.6 978.5 L1834.5 952.7 L1839.3 927.0 L1842.6 910.9 L1847.4 898.0 L1852.2 885.1 L1860.9 889.9 L1865.1 907.6 L1869.9 930.2 L1874.7 955.9 L1879.6 981.7 L1882.1 1007.4 L1884.4 1033.2 L1887.6 1062.1 L1890.8 1087.9 L1894.1 1110.4 L1897.3 1136.1 L1902.1 1153.8 L1906.9 1171.5 L1915.0 1182.8 L1919.8 1197.3 L1924.6 1213.3 L1931.1 1226.2 L1937.5 1237.5 L1945.6 1247.1 L1953.6 1252.6 L1963.3 1248.8 L1972.3 1244.6 L1977.7 1255.2 L1982.6 1263.2 L1990.6 1265.5 L1997.1 1260.7 L2001.9 1256.8 L2006.7 1261.6 L2013.2 1268.1 L2021.2 1267.4 L2027.0 1274.5 L2032.5 1281.9 L2042.1 1284.2 L2051.8 1287.4 L2061.4 1286.1 L2066.3 1293.2 L2071.1 1300.3 L2080.8 1297.0 L2087.2 1303.5 L2095.2 1310.6 L2102.3 1315.7 L2108.1 1327.6 L2112.9 1338.2 L2122.6 1338.2 L2132.3 1337.3 L2138.7 1346.9 L2145.1 1357.6 L2153.2 1367.2 L2162.8 1367.9 L2172.5 1371.7 L2184.7 1378.5 L2191.2 1372.7 L2196.6 1368.5 L2206.3 1371.7 L2212.7 1383.9 L2219.2 1395.2 L2227.2 1400.7 L2233.6 1409.7 L2239.4 1419.4 L2244.9 1413.6 L2250.4 1408.1" fill="none" stroke="#7030A0" stroke-width="4.5" stroke-linejoin="round" stroke-linecap="butt"/>
<path d="M65.3 1528.3 L70.0 1527.1 L61.6 1524.5 L68.9 1523.6 L62.0 1521.2 L67.8 1520.0 L63.2 1517.9 L70.4 1516.9 L64.0 1514.5 L69.7 1513.4 L64.2 1511.1 L68.8 1509.9 L64.6 1507.7 L69.5 1506.5 L65.2 1504.4 L70.8 1503.2 L65.8 1501.0 L70.8 1499.8 L65.9 1497.6 L71.9 1496.5 L65.4 1494.2 L71.6 1493.1 L66.9 1490.9 L70.5 1489.5 L66.1 1487.5 L70.8 1486.1 L66.9 1484.1 L72.0 1482.8 L68.1 1480.8 L72.2 1479.4 L68.0 1477.4 L71.3 1475.9 L67.4 1474.0 L72.1 1472.6 L68.8 1470.6 L72.9 1469.2 L68.8 1467.2 L73.6 1465.9 L68.7 1463.8 L72.9 1462.4 L69.0 1460.4 L73.6 1459.1 L69.6 1457.1 L73.1 1455.6 L70.4 1453.7 L72.8 1452.2 L70.7 1450.3 L74.4 1448.9 L70.5 1446.9 L74.1 1445.5 L71.5 1443.5 L74.5 1442.2 L72.2 1440.2 L74.6 1438.8 L72.5 1436.8 L75.2 1435.4 L72.6 1433.4 L75.5 1432.0 L73.4 1430.0 L74.3 1415.0 L75.1 1439.7 L75.9 1407.0 L76.7 1423.2 L77.5 1392.9 L78.3 1410.7 L79.1 1376.8 L79.9 1398.3 L80.7 1375.8 L81.5 1384.9 L82.3 1362.1 L83.1 1375.7 L83.9 1364.8 L84.7 1372.2 L85.5 1356.0 L86.3 1367.6 L87.1 1346.6 L87.9 1356.2 L88.7 1345.5 L89.5 1353.4 L90.3 1336.0 L91.1 1347.2 L91.9 1335.9 L92.7 1345.8 L93.5 1329.8 L94.3 1337.1 L95.1 1327.0 L95.9 1336.1 L96.7 1316.5 L97.5 1325.6 L98.3 1312.2 L99.1 1324.2 L99.9 1314.5 L100.7 1321.2 L101.5 1304.8 L102.3 1313.7 L103.1 1298.5 L103.9 1304.1 L104.7 1289.9 L105.5 1300.8 L106.3 1282.0 L107.1 1293.5 L107.9 1285.7 L108.7 1293.1 L109.5 1288.1 L110.3 1296.4 L111.1 1286.5 L111.9 1296.2 L112.7 1274.2 L113.5 1286.5 L114.3 1272.9 L115.1 1280.0 L115.9 1264.4 L116.7 1278.2 L117.5 1262.5 L118.3 1272.9 L119.1 1261.1 L119.9 1270.2 L120.7 1247.8 L121.5 1262.6 L122.3 1235.9 L123.1 1253.4 L123.9 1225.5 L124.7 1242.6 L125.5 1211.0 L126.3 1223.6 L127.1 1183.3 L127.9 1210.0 L128.7 1166.6 L129.5 1195.4 L130.3 1152.4 L131.1 1174.0 L131.9 1129.6 L132.7 1151.4 L133.5 1104.0 L134.3 1129.4 L135.1 1108.9 L135.9 1117.1 L136.7 1105.3 L137.5 1123.7 L138.3 1109.4 L139.1 1138.4 L139.9 1135.1 L140.7 1139.6 L141.5 1127.9 L142.3 1138.9 L143.1 1122.8 L143.9 1133.2 L144.7 1114.6 L145.5 1127.8 L146.3 1113.3 L147.1 1121.4 L147.9 1100.0 L148.7 1113.9 L149.5 1098.4 L150.3 1106.8 L151.1 1099.7 L151.9 1103.8 L152.7 1097.4 L153.5 1105.9 L154.3 1098.7 L155.1 1106.7 L155.9 1097.0 L156.7 1102.8 L157.5 1091.4 L158.3 1101.0 L159.1 1093.1 L159.9 1099.0 L160.7 1089.4 L161.5 1098.0 L162.3 1091.0 L163.1 1097.0 L163.9 1087.7 L164.7 1091.9 L165.5 1084.3 L166.3 1090.8 L167.1 1081.8 L167.9 1088.9 L168.7 1081.3 L169.5 1087.1 L170.3 1080.2 L171.1 1088.7 L171.9 1078.6 L172.7 1085.9 L173.5 1077.8 L174.3 1086.2 L175.1 1072.2 L175.9 1089.0 L176.7 1079.4 L177.5 1099.1 L178.3 1090.9 L179.1 1113.3 L179.9 1105.2 L180.7 1110.7 L181.5 1101.3 L182.3 1109.1 L183.1 1091.4 L183.9 1104.2 L184.7 1084.9 L185.5 1101.0 L186.3 1082.2 L187.1 1093.8 L187.9 1073.6 L188.7 1082.6 L189.5 1069.3 L190.3 1080.5 L191.1 1066.0 L191.9 1071.3 L192.7 1059.9 L193.5 1071.9 L194.3 1055.3 L195.1 1061.5 L195.9 1055.3 L196.7 1064.8 L197.5 1057.0 L198.3 1061.8 L199.1 1057.3 L199.9 1064.5 L200.7 1057.3 L201.5 1064.4 L202.3 1049.0 L203.1 1058.5 L203.9 1039.6 L204.7 1050.9 L205.5 1029.1 L206.3 1040.3 L207.1 1026.7 L207.9 1035.1 L208.7 1028.4 L209.5 1033.3 L210.3 1028.2 L211.1 1034.9 L211.9 1031.5 L212.7 1043.5 L213.5 1036.9 L214.3 1040.8 L215.1 1025.9 L215.9 1035.3 L216.7 1023.7 L217.5 1033.8 L218.3 1016.9 L219.1 1023.6 L219.9 1010.6 L220.7 1021.7 L221.5 1007.2 L222.3 1017.0 L223.1 1004.1 L223.9 1013.3 L224.7 1003.9 L225.5 1009.6 L226.3 1003.8 L227.1 1014.0 L227.9 1010.3 L228.7 1017.1 L229.5 1007.2 L230.3 1017.1 L231.1 1013.9 L231.9 1025.7 L232.7 1019.6 L233.5 1030.0 L234.3 1012.6 L235.1 1024.8 L235.9 998.9 L236.7 1010.4 L237.5 992.3 L238.3 1003.1 L239.1 998.2 L239.9 1014.6 L240.7 1009.6 L241.5 1020.3 L242.3 1005.2 L243.1 1018.9 L243.9 992.2 L244.7 1005.0 L245.5 981.7 L246.3 989.8 L247.1 984.7 L247.9 995.2 L248.7 990.5 L249.5 1001.4 L250.3 995.1 L251.1 1002.9 L251.9 994.2 L252.7 997.9 L253.5 988.9 L254.3 998.4 L255.1 982.7 L255.9 993.6 L256.7 979.4 L257.5 988.5 L258.3 978.2 L259.1 987.7 L259.9 981.4 L260.7 996.6 L261.5 997.1 L262.3 1005.1 L263.1 1001.8 L263.9 1000.8 L264.7 993.9 L266.6 997.3 L268.5 1010.2 L270.4 1019.7 L272.3 1029.0 L274.2 1039.1 L276.1 1050.9 L278.0 1062.9 L279.9 1079.9 L281.8 1097.2 L283.7 1116.4 L285.6 1135.8 L287.5 1147.9 L289.4 1170.0 L291.3 1189.7 L293.2 1208.9 L295.1 1231.4 L297.0 1254.7 L298.9 1282.5 L300.8 1308.8 L302.7 1332.2 L304.6 1355.5 L306.5 1367.3 L308.4 1379.6 L310.3 1391.9 L312.2 1400.2 L314.1 1409.9 L316.0 1420.1 L317.9 1426.7 L319.8 1429.9 L321.7 1433.4 L323.6 1429.1 L325.5 1425.6 L327.4 1415.4 L329.3 1407.0 L331.2 1393.6 L333.1 1376.9 L335.0 1356.2 L336.9 1333.9 L338.8 1311.6 L340.7 1292.5 L342.6 1274.3 L344.5 1256.9 L346.4 1253.1 L348.3 1246.8 L350.2 1250.3 L352.1 1253.5 L354.0 1258.7 L355.9 1264.1 L357.8 1270.5 L359.7 1285.2 L361.6 1297.3 L363.5 1312.5 L365.4 1327.2 L367.3 1340.6 L369.2 1353.2 L371.1 1367.8 L373.0 1381.5 L374.9 1390.8 L376.8 1400.3 L378.7 1408.5 L380.6 1420.9 L382.5 1427.4 L384.4 1434.4 L386.3 1438.8 L388.2 1442.5 L390.1 1447.7 L392.0 1453.0 L393.9 1457.8 L395.8 1464.2 L397.7 1461.9 L399.6 1460.9 L401.5 1462.2 L403.4 1468.6 L405.3 1472.1 L407.2 1476.8 L409.1 1479.8 L411.0 1483.2 L412.9 1485.9 L414.8 1490.6 L416.7 1494.2 L418.6 1500.9 L420.5 1507.2 L422.4 1514.0 L424.3 1518.3 L426.2 1521.5 L428.1 1525.9 L430.0 1533.3 L431.9 1541.2 L433.8 1545.0 L435.7 1549.0 L437.6 1551.9 L439.5 1554.8 L441.4 1561.0 L443.3 1566.6 L445.2 1572.4 L447.1 1576.8 L449.0 1579.4 L450.9 1583.7 L452.8 1587.3 L454.7 1591.4 L456.6 1595.7 L458.5 1601.2 L460.4 1606.3 L462.3 1610.9 L464.2 1616.4 L466.1 1619.8 L468.0 1620.1 L469.9 1621.4 L471.8 1619.2 L473.7 1617.3 L475.6 1618.0 L477.5 1620.8 L479.4 1624.4 L481.3 1627.6 L483.2 1629.6 L485.1 1631.3 L487.0 1631.3 L488.9 1628.0 L490.8 1625.4 L492.7 1624.3 L494.6 1623.9 L496.5 1626.7 L498.4 1633.8 L500.3 1638.8 L502.2 1642.2 L504.1 1644.9 L506.0 1649.4 L507.9 1654.1 L509.8 1658.9 L511.7 1663.7 L513.6 1659.6 L515.5 1656.2 L517.4 1657.6 L519.3 1667.1 L521.2 1671.5 L523.1 1673.1 L525.0 1675.3 L526.9 1677.7 L528.8 1681.2 L530.7 1685.0 L532.6 1692.3 L534.5 1699.5 L536.4 1703.0 L538.3 1694.3 L540.8 1682.8 L547.2 1687.7 L553.6 1689.3 L560.1 1686.1 L564.9 1673.2 L571.4 1665.1 L577.8 1661.9 L582.6 1673.2 L589.1 1682.8 L593.9 1679.6 L600.0 1660.3 L603.5 1657.7 L606.7 1648.1 L609.2 1645.5 L612.1 1660.9 L615.4 1675.4 L617.9 1686.1 L622.8 1675.4 L627.6 1664.2 L634.7 1657.1 L640.5 1660.9 L644.3 1667.4 L646.9 1676.4 L650.8 1669.0 L655.0 1677.0 L659.8 1686.1 L664.6 1688.3 L671.1 1694.7 L675.2 1689.9 L677.5 1677.7 L681.7 1675.4 L684.9 1680.3 L688.1 1693.1 L690.4 1709.2 L694.5 1722.1 L699.1 1731.8 L703.2 1737.6 L706.5 1751.1 L710.6 1747.9 L712.9 1762.3 L717.7 1767.2 L722.6 1773.6 L727.4 1780.0 L732.2 1788.1 L734.8 1792.3 L737.7 1777.5 L740.3 1789.7 L745.1 1784.9 L750.6 1781.7 L754.7 1760.7 L758.9 1747.9 L762.8 1735.0 L768.6 1731.8 L772.4 1741.4 L777.3 1754.3 L782.1 1768.8 L786.3 1773.0 L790.2 1768.1 L794.3 1778.4 L798.8 1784.9 L803.0 1783.9 L806.2 1797.7 L810.4 1805.8 L814.3 1805.2 L817.5 1817.1 L822.3 1821.2 L828.8 1822.9 L833.0 1831.5 L839.4 1830.9 L844.9 1838.0 L849.7 1845.1 L853.6 1836.4 L857.7 1827.7 L862.6 1825.1 L868.4 1817.1 L873.8 1818.7 L878.7 1823.5 L883.5 1820.3 L889.9 1817.1 L894.8 1807.4 L899.6 1800.0 L903.8 1801.9 L907.0 1788.1 L911.5 1773.6 L915.7 1759.1 L918.9 1741.4 L922.1 1728.5 L925.3 1718.9 L927.6 1693.1 L930.2 1644.8 L931.8 1596.6 L933.4 1548.3 L935.0 1479.4 L937.3 1382.8 L939.8 1286.3 L943.0 1189.7 L946.3 1109.2 L948.8 1060.9 L951.7 1035.2 L954.3 1067.4 L957.5 1141.4 L960.8 1238.0 L964.0 1334.5 L966.2 1398.9 L968.8 1463.3 L973.6 1495.5 L978.5 1521.2 L980.1 1525.8 L983.3 1556.3 L988.1 1567.6 L992.9 1580.5 L996.2 1596.6 L999.4 1615.9 L1002.6 1635.2 L1007.4 1643.2 L1012.3 1648.1 L1017.1 1641.6 L1021.9 1628.8 L1026.1 1609.4 L1029.3 1599.8 L1032.2 1598.2 L1034.8 1612.7 L1038.0 1628.8 L1041.2 1644.8 L1046.1 1657.1 L1050.9 1648.1 L1057.3 1635.2 L1062.1 1623.9 L1067.0 1635.2 L1071.8 1644.8 L1077.6 1649.7 L1082.1 1657.7 L1085.3 1641.6 L1087.9 1632.0 L1093.7 1628.8 L1097.6 1606.2 L1103.3 1577.3 L1108.8 1566.0 L1114.3 1556.3 L1118.5 1567.6 L1123.3 1583.7 L1127.2 1603.0 L1130.4 1614.3 L1136.2 1603.0 L1140.0 1588.5 L1144.2 1564.4 L1148.4 1535.4 L1152.3 1517.7 L1157.1 1524.1 L1160.0 1548.3 L1161.8 1551.3 L1165.7 1570.6 L1168.9 1581.9 L1174.7 1591.6 L1181.2 1602.8 L1187.0 1611.8 L1191.5 1599.6 L1197.3 1571.3 L1203.0 1569.0 L1208.5 1559.4 L1213.3 1573.9 L1218.2 1593.2 L1223.0 1612.5 L1226.9 1627.0 L1232.7 1624.7 L1239.1 1612.5 L1243.9 1586.7 L1249.4 1570.6 L1252.6 1551.3 L1255.2 1535.2 L1262.3 1523.0 L1268.1 1530.4 L1274.5 1536.8 L1280.9 1554.5 L1287.4 1548.1 L1293.8 1535.2 L1296.4 1519.1 L1298.6 1503.0 L1305.1 1504.7 L1308.3 1532.0 L1312.5 1557.8 L1318.9 1583.5 L1325.4 1573.9 L1330.8 1557.8 L1337.3 1535.2 L1343.7 1519.1 L1349.2 1499.8 L1353.4 1480.5 L1358.2 1461.2 L1362.1 1435.5 L1366.2 1412.9 L1370.4 1396.8 L1374.3 1416.1 L1378.2 1441.9 L1380.7 1474.1 L1383.9 1522.4 L1389.7 1562.6 L1396.8 1562.6 L1403.3 1558.4 L1409.7 1559.4 L1417.7 1564.2 L1423.2 1554.5 L1430.6 1557.8 L1438.0 1563.6 L1445.1 1557.1 L1449.0 1580.3 L1453.2 1602.8 L1458.6 1628.6 L1466.0 1641.5 L1473.1 1652.7 L1478.9 1638.2 L1484.4 1627.9 L1489.5 1620.5 L1495.0 1615.7 L1500.5 1607.7 L1506.3 1596.4 L1511.1 1583.5 L1516.6 1565.8 L1524.9 1559.4 L1530.4 1535.2 L1533.6 1530.4 L1539.1 1522.4 L1543.3 1499.8 L1546.5 1483.7 L1553.6 1473.4 L1561.6 1490.2 L1569.0 1476.7 L1577.1 1478.9 L1583.5 1458.0 L1591.6 1422.6 L1599.6 1396.8 L1607.7 1377.5 L1612.5 1355.0 L1616.4 1338.9 L1623.8 1322.8 L1628.6 1309.9 L1632.4 1293.8 L1636.6 1261.6 L1639.8 1229.4 L1643.1 1197.3 L1646.3 1165.1 L1648.5 1132.9 L1651.1 1107.2 L1654.3 1058.9 L1657.6 1026.7 L1660.8 994.5 L1663.3 968.8 L1666.6 981.7 L1671.1 1007.4 L1674.3 1042.8 L1677.5 1091.1 L1680.1 1133.0 L1682.0 1165.2 L1682.7 1168.3 L1684.9 1210.1 L1688.1 1248.8 L1691.4 1280.9 L1695.5 1313.1 L1700.0 1332.4 L1704.2 1346.9 L1711.6 1356.6 L1717.1 1349.2 L1720.0 1343.7 L1725.1 1350.2 L1728.9 1354.3 L1733.1 1335.7 L1737.9 1309.9 L1742.8 1285.8 L1747.0 1269.7 L1755.6 1269.7 L1759.8 1278.4 L1764.3 1289.0 L1768.5 1316.4 L1773.3 1348.5 L1776.6 1377.5 L1780.4 1404.9 L1789.4 1412.3 L1794.3 1400.0 L1798.5 1388.8 L1807.1 1375.9 L1812.0 1361.4 L1816.8 1338.9 L1820.0 1313.1 L1823.2 1280.9 L1826.5 1248.8 L1829.7 1219.8 L1833.9 1187.6 L1837.7 1168.3 L1841.6 1149.6 L1849.0 1150.6 L1855.4 1156.1 L1861.9 1162.5 L1869.3 1169.9 L1872.5 1197.3 L1876.4 1229.4 L1880.2 1264.8 L1883.4 1297.0 L1886.7 1329.2 L1890.8 1358.2 L1895.0 1380.7 L1898.9 1403.3 L1902.7 1425.8 L1906.9 1443.5 L1914.3 1452.2 L1924.0 1449.9 L1929.5 1464.4 L1935.9 1478.9 L1943.3 1493.4 L1953.0 1496.0 L1956.8 1509.5 L1961.7 1528.2 L1968.1 1515.9 L1974.5 1503.0 L1981.9 1490.2 L1990.6 1498.2 L1997.1 1509.5 L2003.5 1519.1 L2011.5 1528.8 L2019.6 1529.8 L2026.0 1535.2 L2031.5 1539.4 L2035.7 1533.6 L2040.5 1527.2 L2045.3 1544.9 L2050.8 1564.8 L2058.2 1556.2 L2064.7 1544.9 L2070.1 1534.3 L2079.8 1537.5 L2084.9 1551.3 L2089.4 1564.8 L2100.1 1570.6 L2104.9 1578.7 L2111.3 1590.6 L2122.6 1597.0 L2127.4 1604.4 L2132.3 1612.5 L2142.9 1619.6 L2148.3 1612.5 L2153.2 1606.7 L2162.8 1612.5 L2169.3 1620.5 L2175.7 1627.0 L2184.7 1627.0 L2190.2 1638.2 L2195.7 1647.9 L2206.3 1643.1 L2217.6 1639.8 L2227.2 1641.5 L2236.9 1645.3 L2243.3 1650.5 L2249.7 1655.9" fill="none" stroke="#0070C0" stroke-width="4.5" stroke-linejoin="round" stroke-linecap="butt"/>
<path d="M64.4 1901.4 L68.3 1899.9 L60.0 1897.8 L67.8 1896.4 L61.8 1894.5 L68.2 1893.1 L61.0 1891.0 L66.6 1889.6 L63.0 1887.7 L68.9 1886.3 L62.1 1884.3 L67.1 1882.8 L61.6 1880.8 L68.0 1879.4 L62.1 1877.5 L67.5 1876.0 L62.5 1874.1 L68.9 1872.7 L62.5 1870.7 L67.4 1869.2 L62.9 1867.3 L69.4 1865.9 L64.5 1864.0 L69.3 1862.5 L62.5 1860.5 L70.3 1859.1 L62.9 1857.1 L69.3 1855.7 L64.5 1853.7 L69.8 1852.3 L64.4 1850.3 L69.8 1848.9 L65.0 1847.0 L68.8 1845.4 L65.2 1843.6 L69.1 1842.0 L65.0 1840.2 L70.0 1838.7 L65.4 1836.8 L68.8 1835.2 L65.1 1833.4 L69.5 1831.9 L65.8 1829.9 L70.8 1828.6 L64.7 1826.4 L69.4 1825.1 L65.1 1823.1 L70.2 1821.7 L66.5 1819.7 L71.5 1818.4 L66.1 1816.3 L70.7 1815.0 L67.3 1813.0 L71.4 1811.6 L67.3 1809.5 L72.3 1808.3 L66.9 1806.1 L71.5 1804.8 L67.8 1802.7 L71.5 1801.4 L68.9 1799.4 L71.6 1798.0 L69.6 1796.1 L72.5 1794.7 L70.1 1792.7 L72.3 1791.2 L70.4 1789.3 L73.7 1788.0 L70.5 1785.9 L73.6 1784.5 L70.9 1782.6 L73.5 1781.1 L70.9 1779.1 L73.6 1777.7 L72.1 1775.8 L73.8 1774.3 L72.1 1772.4 L74.6 1771.0 L73.4 1756.1 L74.2 1778.3 L75.0 1739.0 L75.8 1752.0 L76.6 1726.3 L77.4 1736.7 L78.2 1710.2 L79.0 1728.1 L79.8 1691.5 L80.6 1716.9 L81.4 1681.5 L82.2 1692.7 L83.0 1669.0 L83.8 1686.0 L84.6 1670.0 L85.4 1676.4 L86.2 1655.5 L87.0 1670.1 L87.8 1651.0 L88.6 1664.3 L89.4 1646.4 L90.2 1654.3 L91.0 1636.2 L91.8 1650.1 L92.6 1633.6 L93.4 1647.2 L94.2 1630.0 L95.0 1637.4 L95.8 1623.0 L96.6 1634.1 L97.4 1613.6 L98.2 1620.7 L99.0 1604.3 L99.8 1620.8 L100.6 1602.5 L101.4 1611.3 L102.2 1596.2 L103.0 1604.8 L103.8 1593.2 L104.6 1602.4 L105.4 1590.7 L106.2 1599.1 L107.0 1583.4 L107.8 1595.9 L108.6 1579.1 L109.4 1586.1 L110.2 1577.9 L111.0 1587.6 L111.8 1573.9 L112.6 1584.6 L113.4 1565.9 L114.2 1571.7 L115.0 1556.5 L115.8 1567.7 L116.6 1544.6 L117.4 1555.3 L118.2 1535.6 L119.0 1546.9 L119.8 1524.6 L120.6 1541.5 L121.4 1517.4 L122.2 1537.6 L123.0 1506.2 L123.8 1521.1 L124.6 1498.5 L125.4 1513.7 L126.2 1488.5 L127.0 1495.3 L127.8 1465.4 L128.6 1487.7 L129.4 1451.1 L130.2 1469.5 L131.0 1433.1 L131.8 1452.1 L132.6 1419.3 L133.4 1438.4 L134.2 1403.7 L135.0 1423.4 L135.8 1396.8 L136.6 1401.3 L137.4 1386.5 L138.2 1392.5 L139.0 1384.1 L139.8 1394.0 L140.6 1382.0 L141.4 1390.8 L142.2 1383.4 L143.0 1393.6 L143.8 1380.0 L144.6 1391.7 L145.4 1378.0 L146.2 1387.3 L147.0 1373.0 L147.8 1383.9 L148.6 1371.0 L149.4 1379.5 L150.2 1369.6 L151.0 1374.1 L151.8 1364.3 L152.6 1372.0 L153.4 1361.5 L154.2 1365.5 L155.0 1351.7 L155.8 1360.3 L156.6 1351.1 L157.4 1356.0 L158.2 1347.8 L159.0 1352.5 L159.8 1345.8 L160.6 1350.7 L161.4 1342.1 L162.2 1347.2 L163.0 1339.6 L163.8 1346.5 L164.6 1338.7 L165.4 1343.7 L166.2 1334.8 L167.0 1346.2 L167.8 1337.4 L168.6 1345.5 L169.4 1337.6 L170.2 1348.4 L171.0 1340.7 L171.8 1351.2 L172.6 1343.4 L173.4 1358.9 L174.2 1349.6 L175.0 1358.5 L175.8 1349.9 L176.6 1354.4 L177.4 1346.0 L178.2 1353.2 L179.0 1345.7 L179.8 1351.4 L180.6 1342.3 L181.4 1345.9 L182.2 1339.8 L183.0 1345.5 L183.8 1340.1 L184.6 1345.5 L185.4 1339.5 L186.2 1349.3 L187.0 1336.3 L187.8 1338.8 L188.6 1322.1 L189.4 1329.6 L190.2 1312.6 L191.0 1328.8 L191.8 1315.4 L192.6 1324.7 L193.4 1310.5 L194.2 1321.2 L195.0 1305.8 L195.8 1310.1 L196.6 1300.1 L197.4 1307.8 L198.2 1290.5 L199.0 1298.1 L199.8 1286.3 L200.6 1295.4 L201.4 1283.3 L202.2 1291.5 L203.0 1286.1 L203.8 1291.8 L204.6 1284.2 L205.4 1288.1 L206.2 1279.8 L207.0 1288.3 L207.8 1277.5 L208.6 1287.3 L209.4 1275.2 L210.2 1283.5 L211.0 1262.9 L211.8 1276.4 L212.6 1255.1 L213.4 1263.2 L214.2 1250.2 L215.0 1259.1 L215.8 1252.2 L216.6 1257.5 L217.4 1250.5 L218.2 1265.8 L219.0 1256.0 L219.8 1269.3 L220.6 1261.0 L221.4 1266.6 L222.2 1257.6 L223.0 1267.7 L223.8 1261.3 L224.6 1265.7 L225.4 1259.1 L226.2 1265.7 L227.0 1258.5 L227.8 1265.3 L228.6 1258.2 L229.4 1265.7 L230.2 1263.0 L231.0 1265.0 L231.8 1255.8 L232.6 1261.2 L233.4 1250.0 L234.2 1256.9 L235.0 1246.3 L235.8 1255.2 L236.6 1250.5 L237.4 1255.7 L238.2 1248.4 L239.0 1257.4 L239.8 1248.0 L240.6 1254.4 L241.4 1244.4 L242.2 1255.6 L243.0 1240.6 L243.8 1247.5 L244.6 1236.7 L245.4 1245.8 L246.2 1233.3 L247.0 1241.6 L247.8 1235.5 L248.6 1242.7 L249.4 1237.3 L250.2 1242.7 L251.0 1233.4 L251.8 1239.8 L252.6 1231.8 L253.4 1240.0 L254.2 1231.4 L255.0 1242.0 L255.8 1235.6 L256.6 1244.6 L257.4 1237.5 L258.2 1243.1 L259.0 1236.1 L259.8 1240.5 L260.6 1235.7 L261.4 1237.9 L262.2 1233.0 L263.0 1235.4 L263.8 1234.7 L264.6 1238.2 L266.5 1240.7 L268.4 1247.8 L270.3 1256.1 L272.2 1266.8 L274.1 1276.0 L276.0 1289.3 L277.9 1301.4 L279.8 1313.2 L281.7 1323.8 L283.6 1334.0 L285.5 1349.6 L287.4 1367.5 L289.3 1384.5 L291.2 1398.4 L293.1 1425.6 L295.0 1451.7 L296.9 1475.8 L298.8 1501.2 L300.7 1528.4 L302.6 1552.9 L304.5 1574.8 L306.4 1597.6 L308.3 1617.0 L310.2 1628.0 L312.1 1635.6 L314.0 1647.5 L315.9 1658.6 L317.8 1663.8 L319.7 1668.0 L321.6 1673.2 L323.5 1674.5 L325.4 1669.3 L327.3 1659.8 L329.2 1646.1 L331.1 1632.5 L333.0 1619.8 L334.9 1598.3 L336.8 1579.5 L338.7 1558.7 L340.6 1538.7 L342.5 1518.4 L344.4 1503.7 L346.3 1489.5 L348.2 1482.4 L350.1 1479.6 L352.0 1482.2 L353.9 1487.4 L355.8 1494.0 L357.7 1502.2 L359.6 1513.3 L361.5 1527.9 L363.4 1539.9 L365.3 1551.5 L367.2 1561.7 L369.1 1578.6 L371.0 1593.2 L372.9 1608.4 L374.8 1622.0 L376.7 1635.0 L378.6 1643.5 L380.5 1652.7 L382.4 1663.5 L384.3 1672.9 L386.2 1681.0 L388.1 1682.3 L390.0 1683.9 L391.9 1690.3 L393.8 1699.1 L395.7 1704.9 L397.6 1708.7 L399.5 1712.1 L401.4 1716.1 L403.3 1720.8 L405.2 1724.1 L407.1 1730.6 L409.0 1734.4 L410.9 1738.5 L412.8 1741.6 L414.7 1745.6 L416.6 1745.9 L418.5 1747.4 L420.4 1754.5 L422.3 1759.8 L424.2 1764.0 L426.1 1767.6 L428.0 1769.2 L429.9 1772.3 L431.8 1777.7 L433.7 1783.0 L435.6 1786.8 L437.5 1788.5 L439.4 1793.5 L441.3 1799.2 L443.2 1802.5 L445.1 1806.6 L447.0 1811.5 L448.9 1813.6 L450.8 1816.3 L452.7 1819.1 L454.6 1821.3 L456.5 1821.9 L458.4 1823.0 L460.3 1829.9 L462.2 1838.7 L464.1 1842.4 L466.0 1844.7 L467.9 1847.3 L469.8 1849.0 L471.7 1849.4 L473.6 1850.4 L475.5 1852.0 L477.4 1855.3 L479.3 1857.0 L481.2 1855.4 L483.1 1853.1 L485.0 1850.9 L486.9 1851.3 L488.8 1850.8 L490.7 1849.7 L492.6 1850.3 L494.5 1854.2 L496.4 1859.5 L498.3 1864.8 L500.2 1870.8 L502.1 1876.8 L504.0 1882.1 L505.9 1884.6 L507.8 1883.1 L509.7 1880.9 L511.6 1884.0 L513.5 1889.4 L515.4 1893.8 L517.3 1898.1 L519.2 1901.3 L521.1 1906.0 L523.0 1911.0 L524.9 1916.0 L526.8 1920.3 L528.7 1923.7 L530.6 1927.0 L532.5 1930.0 L534.4 1931.4 L536.3 1929.6 L538.2 1928.2 L544.0 1930.4 L548.8 1922.3 L555.3 1928.8 L558.5 1919.1 L563.3 1919.1 L568.1 1907.8 L574.6 1899.8 L579.4 1901.4 L583.3 1922.3 L589.1 1925.5 L595.5 1919.1 L600.0 1914.3 L603.5 1902.4 L606.7 1893.3 L609.9 1899.1 L613.1 1915.2 L617.3 1931.3 L621.2 1931.3 L626.0 1912.0 L631.5 1911.4 L635.6 1908.8 L639.8 1917.8 L643.0 1924.9 L646.9 1925.5 L649.5 1937.1 L655.0 1936.2 L659.8 1937.1 L662.4 1948.1 L667.8 1949.0 L674.3 1943.6 L677.5 1932.9 L680.7 1923.3 L684.9 1934.5 L688.1 1949.0 L690.4 1963.5 L693.6 1976.4 L698.4 1986.1 L703.2 1995.7 L708.1 2004.7 L713.9 2011.8 L717.1 2024.0 L720.9 2026.3 L724.2 2032.7 L729.0 2039.2 L733.8 2044.0 L739.6 2048.8 L744.1 2040.8 L749.9 2034.3 L754.7 2023.1 L758.9 2008.6 L763.4 1998.3 L768.6 1995.1 L771.8 2015.0 L777.3 2019.8 L781.5 2027.9 L783.7 2037.6 L788.5 2044.0 L793.4 2052.0 L798.2 2058.5 L803.0 2060.1 L807.2 2069.7 L812.7 2082.6 L817.5 2082.0 L823.9 2093.9 L829.7 2092.9 L835.2 2098.1 L840.0 2101.9 L844.9 2106.1 L852.9 2105.8 L859.4 2100.3 L865.8 2093.9 L872.2 2093.9 L878.0 2092.3 L881.9 2095.5 L886.7 2097.1 L890.9 2090.7 L894.8 2082.0 L899.6 2080.0 L902.8 2071.4 L907.0 2061.7 L911.5 2056.9 L915.7 2047.2 L918.9 2037.6 L922.1 2018.2 L925.3 1992.5 L927.9 1960.3 L930.2 1918.5 L932.7 1854.1 L935.0 1773.6 L937.3 1693.1 L939.2 1628.8 L941.4 1564.4 L944.7 1447.2 L947.9 1350.6 L951.4 1279.8 L954.3 1334.5 L957.5 1431.1 L959.8 1495.5 L960.8 1564.4 L964.0 1644.8 L967.2 1709.2 L970.4 1754.3 L974.6 1783.3 L979.1 1794.5 L983.3 1818.7 L987.5 1838.0 L992.9 1857.3 L997.1 1873.4 L1001.0 1892.7 L1004.8 1910.4 L1007.4 1920.1 L1011.3 1908.8 L1016.4 1904.9 L1021.9 1904.0 L1026.7 1886.3 L1031.6 1875.0 L1034.8 1892.7 L1038.0 1915.2 L1042.2 1932.9 L1046.7 1938.4 L1050.9 1908.8 L1056.4 1906.2 L1062.1 1911.4 L1068.6 1918.5 L1077.6 1925.5 L1083.1 1921.0 L1087.9 1913.6 L1091.1 1895.9 L1095.9 1876.6 L1100.8 1860.5 L1105.6 1846.0 L1110.4 1833.2 L1114.3 1830.9 L1120.1 1849.2 L1124.9 1878.2 L1131.4 1875.0 L1136.8 1871.8 L1141.0 1854.1 L1145.2 1831.5 L1149.1 1809.0 L1152.3 1792.3 L1156.1 1805.8 L1160.0 1825.1 L1163.5 1835.2 L1168.3 1860.9 L1174.7 1864.2 L1181.2 1868.0 L1187.0 1870.0 L1191.5 1864.2 L1197.3 1846.5 L1200.5 1833.6 L1203.7 1824.9 L1208.5 1841.6 L1213.3 1867.4 L1219.8 1880.3 L1226.9 1891.5 L1232.7 1889.3 L1239.7 1875.4 L1243.9 1841.6 L1248.8 1825.5 L1252.6 1812.7 L1255.8 1801.4 L1261.6 1806.9 L1268.1 1811.1 L1274.5 1820.7 L1280.9 1830.4 L1286.7 1833.6 L1290.6 1812.7 L1295.4 1790.1 L1298.6 1773.4 L1305.1 1786.9 L1308.3 1806.2 L1312.5 1827.1 L1318.9 1843.2 L1324.4 1838.4 L1329.2 1825.5 L1334.1 1809.4 L1338.9 1790.1 L1344.7 1761.2 L1350.2 1741.8 L1354.3 1729.0 L1358.2 1716.1 L1360.8 1693.0 L1364.0 1664.0 L1367.2 1654.3 L1370.4 1647.9 L1373.6 1673.6 L1375.9 1699.4 L1377.5 1725.8 L1380.7 1761.2 L1383.9 1793.3 L1389.7 1831.3 L1395.2 1820.7 L1402.6 1807.8 L1409.7 1802.4 L1417.7 1806.9 L1424.2 1822.3 L1431.6 1822.3 L1437.1 1822.3 L1445.1 1829.4 L1449.0 1848.1 L1453.2 1867.4 L1459.6 1894.7 L1466.0 1906.0 L1473.1 1890.6 L1480.5 1890.6 L1487.0 1873.8 L1490.8 1881.9 L1495.0 1891.5 L1502.4 1877.0 L1506.3 1864.2 L1511.1 1848.1 L1516.6 1833.6 L1520.8 1815.9 L1524.0 1801.4 L1528.8 1795.0 L1533.6 1790.1 L1539.1 1787.9 L1543.3 1770.8 L1546.5 1759.5 L1553.6 1752.5 L1561.6 1755.7 L1565.8 1741.8 L1570.6 1729.0 L1577.1 1714.5 L1583.5 1706.4 L1588.3 1699.4 L1592.5 1683.3 L1596.4 1660.8 L1600.3 1638.2 L1609.3 1622.1 L1615.7 1602.8 L1622.1 1580.3 L1627.0 1564.2 L1631.8 1541.7 L1635.0 1522.4 L1638.9 1493.4 L1642.1 1458.0 L1645.3 1416.1 L1647.9 1377.5 L1650.5 1338.9 L1653.7 1293.8 L1656.9 1264.8 L1660.1 1245.5 L1663.3 1229.4 L1667.2 1235.9 L1672.0 1242.3 L1674.3 1280.9 L1676.9 1329.2 L1679.4 1377.5 L1682.7 1429.0 L1685.9 1474.1 L1689.1 1506.3 L1693.0 1538.5 L1696.2 1577.1 L1702.0 1590.0 L1706.5 1602.8 L1711.6 1615.7 L1715.5 1612.5 L1720.0 1601.2 L1728.3 1577.1 L1737.3 1556.2 L1741.8 1528.8 L1746.0 1503.0 L1750.8 1487.0 L1754.7 1474.1 L1758.9 1496.6 L1763.0 1522.4 L1766.3 1551.3 L1769.5 1577.1 L1771.7 1602.8 L1775.9 1622.1 L1781.4 1648.5 L1788.8 1648.5 L1795.2 1636.6 L1804.9 1617.3 L1812.0 1599.6 L1816.8 1583.5 L1819.1 1551.3 L1822.3 1519.1 L1825.5 1487.0 L1828.7 1451.5 L1831.9 1416.1 L1836.1 1387.2 L1839.3 1364.6 L1841.9 1356.6 L1850.6 1361.4 L1856.4 1369.5 L1861.9 1379.1 L1866.7 1396.8 L1870.6 1412.9 L1874.7 1441.9 L1878.9 1470.9 L1882.1 1506.3 L1886.0 1544.9 L1889.9 1577.1 L1894.1 1609.3 L1897.3 1635.0 L1901.5 1654.3 L1906.0 1680.7 L1914.3 1685.9 L1924.0 1680.1 L1928.5 1688.0 L1934.3 1697.7 L1943.9 1717.7 L1953.6 1725.1 L1963.3 1732.1 L1971.3 1738.9 L1976.8 1748.2 L1981.9 1756.3 L1990.6 1748.2 L1997.1 1741.2 L2000.3 1736.3 L2005.1 1742.8 L2009.9 1749.2 L2016.4 1742.8 L2021.2 1737.3 L2027.6 1741.8 L2034.1 1749.2 L2040.5 1758.9 L2045.3 1770.1 L2050.8 1787.8 L2061.4 1784.6 L2070.1 1781.4 L2075.3 1788.8 L2079.8 1794.3 L2089.4 1800.7 L2095.2 1809.4 L2101.7 1819.1 L2110.7 1828.7 L2121.6 1828.1 L2127.4 1838.4 L2132.3 1846.7 L2143.5 1848.0 L2152.5 1851.2 L2158.0 1857.0 L2163.5 1863.5 L2172.5 1867.7 L2178.9 1872.5 L2184.7 1877.0 L2195.0 1875.7 L2205.3 1880.5 L2216.9 1880.2 L2222.4 1889.2 L2227.2 1897.3 L2233.6 1894.7 L2239.4 1893.1 L2244.9 1897.9 L2249.7 1902.1" fill="none" stroke="#00008B" stroke-width="4.5" stroke-linejoin="round" stroke-linecap="butt"/>
<path d="M66.6 2028.5 L71.2 2027.0 L65.0 2025.1 L71.0 2023.6 L64.2 2021.6 L69.0 2020.1 L64.2 2018.2 L70.9 2016.8 L63.1 2014.8 L69.5 2013.4 L64.7 2011.4 L70.6 2010.0 L63.2 2008.0 L71.8 2006.6 L65.9 2004.6 L70.2 2003.3 L66.0 2001.2 L70.6 1999.9 L66.4 1997.8 L71.1 1996.5 L64.7 1994.3 L71.8 1993.2 L67.2 1991.1 L72.0 1989.8 L65.9 1987.6 L71.2 1986.3 L66.0 1984.2 L73.1 1983.0 L68.0 1980.9 L71.9 1979.5 L66.7 1977.4 L72.7 1976.1 L66.5 1974.0 L72.7 1972.7 L67.4 1970.7 L72.3 1969.3 L67.6 1967.3 L71.9 1965.9 L69.3 1964.0 L73.9 1962.6 L68.8 1960.6 L72.3 1959.1 L68.9 1957.1 L73.6 1955.7 L68.9 1953.7 L73.7 1952.3 L69.4 1950.2 L74.2 1949.2 L69.3 1946.7 L73.8 1945.7 L71.3 1943.6 L73.9 1942.3 L71.4 1940.2 L75.3 1939.0 L71.3 1936.7 L75.7 1935.6 L72.3 1933.4 L75.3 1932.1 L73.6 1930.2 L75.6 1928.7 L73.6 1926.8 L75.9 1925.3 L73.4 1923.4 L76.7 1922.0 L74.6 1920.1 L75.6 1912.1 L76.4 1927.4 L77.2 1894.0 L78.0 1907.7 L78.8 1871.7 L79.6 1887.8 L80.4 1860.5 L81.2 1876.8 L82.0 1857.8 L82.8 1868.9 L83.6 1854.7 L84.4 1866.0 L85.2 1851.4 L86.0 1864.3 L86.8 1843.1 L87.6 1856.4 L88.4 1831.4 L89.2 1844.6 L90.0 1830.3 L90.8 1838.2 L91.6 1821.8 L92.4 1832.0 L93.2 1814.2 L94.0 1824.1 L94.8 1813.4 L95.6 1822.6 L96.4 1808.7 L97.2 1816.9 L98.0 1807.2 L98.8 1812.2 L99.6 1804.2 L100.4 1814.0 L101.2 1791.3 L102.0 1807.2 L102.8 1780.0 L103.6 1791.3 L104.4 1780.3 L105.2 1789.8 L106.0 1769.2 L106.8 1781.8 L107.6 1765.4 L108.4 1779.1 L109.2 1763.0 L110.0 1775.0 L110.8 1760.2 L111.6 1770.8 L112.4 1752.1 L113.2 1761.6 L114.0 1749.1 L114.8 1759.2 L115.6 1738.6 L116.4 1752.7 L117.2 1731.5 L118.0 1738.4 L118.8 1726.3 L119.6 1732.7 L120.4 1713.1 L121.2 1730.1 L122.0 1703.0 L122.8 1717.0 L123.6 1692.8 L124.4 1705.2 L125.2 1680.1 L126.0 1695.6 L126.8 1671.0 L127.6 1679.5 L128.4 1653.8 L129.2 1669.8 L130.0 1633.6 L130.8 1662.3 L131.6 1611.1 L132.4 1629.8 L133.2 1597.0 L134.0 1607.0 L134.8 1574.0 L135.6 1595.5 L136.4 1578.6 L137.2 1585.4 L138.0 1577.0 L138.8 1590.2 L139.6 1584.2 L140.4 1602.4 L141.2 1594.4 L142.0 1600.9 L142.8 1581.7 L143.6 1595.1 L144.4 1580.6 L145.2 1590.7 L146.0 1572.1 L146.8 1577.8 L147.6 1552.6 L148.4 1562.9 L149.2 1555.6 L150.0 1565.2 L150.8 1560.4 L151.6 1571.9 L152.4 1564.4 L153.2 1573.7 L154.0 1558.9 L154.8 1569.2 L155.6 1555.0 L156.4 1565.4 L157.2 1548.0 L158.0 1557.0 L158.8 1548.3 L159.6 1555.5 L160.4 1543.4 L161.2 1547.5 L162.0 1540.5 L162.8 1548.6 L163.6 1534.5 L164.4 1544.2 L165.2 1535.7 L166.0 1541.1 L166.8 1531.8 L167.6 1536.0 L168.4 1534.0 L169.2 1544.1 L170.0 1536.3 L170.8 1546.7 L171.6 1543.6 L172.4 1552.7 L173.2 1544.0 L174.0 1558.4 L174.8 1547.1 L175.6 1563.1 L176.4 1557.1 L177.2 1566.8 L178.0 1561.3 L178.8 1567.5 L179.6 1562.8 L180.4 1568.7 L181.2 1560.4 L182.0 1568.2 L182.8 1548.9 L183.6 1563.9 L184.4 1547.3 L185.2 1555.3 L186.0 1544.2 L186.8 1548.7 L187.6 1541.1 L188.4 1549.1 L189.2 1538.0 L190.0 1550.3 L190.8 1528.3 L191.6 1538.7 L192.4 1521.8 L193.2 1534.7 L194.0 1517.5 L194.8 1528.0 L195.6 1512.7 L196.4 1520.4 L197.2 1512.7 L198.0 1519.3 L198.8 1507.7 L199.6 1514.4 L200.4 1502.4 L201.2 1507.7 L202.0 1496.5 L202.8 1506.9 L203.6 1499.2 L204.4 1503.3 L205.2 1498.0 L206.0 1505.0 L206.8 1499.7 L207.6 1505.9 L208.4 1492.4 L209.2 1502.5 L210.0 1489.2 L210.8 1498.3 L211.6 1483.3 L212.4 1491.3 L213.2 1482.3 L214.0 1491.8 L214.8 1476.5 L215.6 1486.3 L216.4 1471.5 L217.2 1481.5 L218.0 1469.1 L218.8 1475.8 L219.6 1466.3 L220.4 1477.6 L221.2 1466.5 L222.0 1474.9 L222.8 1466.2 L223.6 1472.0 L224.4 1459.0 L225.2 1469.1 L226.0 1456.1 L226.8 1465.8 L227.6 1456.8 L228.4 1465.9 L229.2 1456.7 L230.0 1469.3 L230.8 1461.1 L231.6 1476.3 L232.4 1470.1 L233.2 1473.5 L234.0 1463.5 L234.8 1470.6 L235.6 1457.9 L236.4 1460.9 L237.2 1455.1 L238.0 1462.1 L238.8 1455.5 L239.6 1464.8 L240.4 1458.9 L241.2 1469.8 L242.0 1463.3 L242.8 1472.0 L243.6 1462.1 L244.4 1468.4 L245.2 1457.9 L246.0 1468.6 L246.8 1457.2 L247.6 1465.7 L248.4 1452.4 L249.2 1463.5 L250.0 1453.3 L250.8 1458.0 L251.6 1451.5 L252.4 1456.2 L253.2 1448.9 L254.0 1454.4 L254.8 1445.5 L255.6 1454.7 L256.4 1447.2 L257.2 1461.3 L258.0 1454.7 L258.8 1464.6 L259.6 1457.5 L260.4 1464.1 L261.2 1460.6 L262.0 1463.0 L262.8 1461.5 L263.6 1463.3 L264.4 1463.6 L266.3 1465.2 L268.2 1470.9 L270.1 1482.2 L272.0 1491.0 L273.9 1499.8 L275.8 1510.1 L277.7 1517.8 L279.6 1525.4 L281.5 1542.2 L283.4 1557.5 L285.3 1571.0 L287.2 1586.1 L289.1 1607.3 L291.0 1629.5 L292.9 1657.6 L294.8 1681.8 L296.7 1710.0 L298.6 1736.2 L300.5 1755.5 L302.4 1773.0 L304.3 1795.5 L306.2 1819.4 L308.1 1843.6 L310.0 1859.0 L311.9 1871.2 L313.8 1883.7 L315.7 1893.4 L317.6 1902.2 L319.5 1903.1 L321.4 1902.5 L323.3 1902.1 L325.2 1895.9 L327.1 1891.5 L329.0 1888.2 L330.9 1875.5 L332.8 1857.5 L334.7 1833.1 L336.6 1812.1 L338.5 1790.7 L340.4 1763.1 L342.3 1736.8 L344.2 1723.2 L346.1 1711.9 L348.0 1707.5 L349.9 1703.2 L351.8 1705.4 L353.7 1711.5 L355.6 1721.3 L357.5 1733.1 L359.4 1740.9 L361.3 1748.7 L363.2 1762.8 L365.1 1777.8 L367.0 1789.5 L368.9 1801.2 L370.8 1820.3 L372.7 1836.7 L374.6 1848.4 L376.5 1857.8 L378.4 1869.8 L380.3 1883.7 L382.2 1887.7 L384.1 1891.1 L386.0 1900.2 L387.9 1909.2 L389.8 1920.6 L391.7 1925.9 L393.6 1919.4 L395.5 1921.8 L397.4 1929.6 L399.3 1935.3 L401.2 1934.9 L403.1 1934.0 L405.0 1936.7 L406.9 1942.1 L408.8 1949.1 L410.7 1952.9 L412.6 1956.0 L414.5 1959.1 L416.4 1965.1 L418.3 1970.8 L420.2 1978.0 L422.1 1981.8 L424.0 1984.5 L425.9 1990.6 L427.8 1995.6 L429.7 2002.4 L431.6 2008.8 L433.5 2012.0 L435.4 2014.4 L437.3 2015.5 L439.2 2019.3 L441.1 2029.1 L443.0 2030.9 L444.9 2033.3 L446.8 2037.6 L448.7 2042.4 L450.6 2048.3 L452.5 2055.7 L454.4 2061.1 L456.3 2063.7 L458.2 2065.6 L460.1 2065.7 L462.0 2065.2 L463.9 2066.8 L465.8 2078.9 L467.7 2085.4 L469.6 2085.9 L471.5 2085.6 L473.4 2086.6 L475.3 2085.5 L477.2 2085.3 L479.1 2084.9 L481.0 2084.6 L482.9 2089.4 L484.8 2094.4 L486.7 2092.1 L488.6 2089.4 L490.5 2087.3 L492.4 2090.6 L494.3 2095.0 L496.2 2098.8 L498.1 2100.0 L500.0 2101.8 L501.9 2107.2 L503.8 2112.5 L505.7 2112.0 L507.6 2111.0 L509.5 2114.3 L511.4 2121.0 L513.3 2124.3 L515.2 2126.3 L517.1 2128.6 L519.0 2130.0 L520.9 2132.6 L522.8 2145.8 L524.7 2149.5 L526.6 2151.2 L528.5 2153.3 L530.4 2155.8 L532.3 2158.5 L534.2 2161.7 L536.1 2164.8 L538.0 2164.6 L539.9 2161.4 L542.4 2157.3 L547.2 2155.7 L552.0 2155.7 L555.3 2160.5 L560.1 2150.9 L564.9 2141.2 L569.7 2134.8 L573.6 2120.3 L577.8 2129.9 L584.2 2139.6 L589.1 2150.9 L595.5 2147.6 L600.0 2121.9 L601.2 2122.1 L605.1 2118.9 L609.9 2120.2 L614.1 2130.8 L617.9 2139.5 L623.4 2145.3 L627.6 2138.9 L630.8 2128.6 L635.6 2131.8 L640.5 2137.2 L644.3 2148.5 L650.1 2144.6 L655.0 2145.9 L658.2 2157.5 L663.0 2159.8 L668.5 2166.2 L671.1 2151.7 L676.5 2148.5 L681.7 2140.5 L684.9 2146.9 L687.1 2161.4 L690.4 2172.7 L692.6 2188.7 L697.8 2195.2 L701.0 2208.1 L704.8 2206.5 L707.4 2219.3 L712.9 2225.8 L717.1 2230.6 L720.3 2245.1 L725.8 2249.9 L730.0 2264.4 L733.8 2258.9 L738.6 2266.0 L743.5 2258.6 L748.3 2254.7 L750.6 2240.2 L754.7 2237.0 L758.0 2222.5 L762.1 2203.2 L766.0 2209.7 L769.9 2208.1 L774.1 2217.7 L778.9 2235.4 L783.7 2237.0 L786.9 2248.3 L792.4 2251.5 L798.8 2258.0 L803.0 2272.4 L807.2 2277.3 L811.1 2280.5 L817.5 2298.2 L822.3 2295.9 L827.2 2298.2 L833.0 2304.6 L839.4 2311.1 L844.9 2312.0 L849.7 2308.8 L856.1 2309.5 L861.0 2315.2 L865.8 2308.8 L870.6 2303.7 L877.1 2298.2 L881.9 2295.9 L887.7 2295.0 L893.2 2290.1 L898.6 2282.1 L902.8 2275.7 L907.6 2267.6 L910.9 2256.3 L915.7 2245.1 L918.9 2232.2 L922.1 2216.1 L924.7 2196.8 L927.0 2171.0 L929.5 2132.4 L931.1 2084.1 L932.7 2035.8 L934.4 1987.6 L936.0 1939.3 L937.3 1821.9 L939.8 1725.3 L942.4 1628.8 L944.7 1564.4 L948.8 1505.2 L951.7 1464.9 L954.3 1495.5 L956.6 1564.4 L959.1 1660.9 L961.7 1757.5 L964.9 1854.1 L968.2 1918.5 L972.0 1950.6 L975.9 1973.2 L980.1 1995.7 L984.2 2018.2 L989.7 2037.6 L994.5 2056.9 L999.4 2073.0 L1004.2 2089.1 L1009.0 2105.2 L1013.2 2118.7 L1017.7 2108.4 L1022.9 2095.5 L1028.3 2085.8 L1032.5 2089.1 L1038.0 2101.9 L1041.2 2122.8 L1042.8 2135.6 L1047.7 2134.0 L1050.9 2119.5 L1055.7 2106.7 L1061.5 2095.4 L1066.0 2116.3 L1070.2 2120.2 L1077.6 2126.6 L1083.1 2116.3 L1087.9 2107.3 L1092.7 2103.4 L1097.6 2063.2 L1103.3 2055.2 L1108.8 2040.7 L1114.3 2028.8 L1120.1 2045.5 L1124.9 2061.6 L1130.4 2078.3 L1136.2 2061.6 L1142.0 2040.7 L1145.8 2016.5 L1149.1 2002.1 L1152.9 1994.0 L1157.1 2014.9 L1160.0 2035.8 L1164.4 2046.0 L1168.9 2057.3 L1174.7 2067.0 L1180.5 2081.4 L1185.0 2063.7 L1192.4 2056.7 L1197.3 2046.0 L1202.1 2026.1 L1208.5 2032.2 L1215.0 2047.6 L1220.4 2078.2 L1232.0 2079.8 L1239.1 2063.7 L1243.9 2047.6 L1248.8 2028.3 L1252.6 2013.8 L1256.8 2001.9 L1262.6 1995.2 L1268.1 2012.9 L1275.2 2003.5 L1280.3 2026.7 L1286.7 2029.0 L1292.2 1999.4 L1298.6 1985.8 L1305.1 1981.0 L1308.3 1999.4 L1311.5 2021.9 L1318.0 2038.0 L1325.4 2030.9 L1330.8 2018.7 L1334.1 1989.7 L1337.3 1963.9 L1343.7 1944.0 L1350.2 1944.0 L1356.6 1923.7 L1359.8 1899.6 L1364.0 1873.8 L1370.4 1848.7 L1373.6 1880.3 L1376.9 1909.2 L1380.7 1935.0 L1383.9 1957.5 L1386.5 1989.7 L1389.7 2021.9 L1396.8 2035.7 L1402.6 2029.0 L1409.7 2026.7 L1416.8 2008.4 L1424.2 2021.2 L1431.6 2019.6 L1438.0 2019.3 L1445.8 2034.8 L1449.0 2054.1 L1453.2 2081.4 L1458.0 2102.4 L1466.0 2115.9 L1473.1 2108.2 L1480.5 2092.1 L1487.6 2102.4 L1493.4 2107.2 L1502.4 2097.5 L1508.8 2083.7 L1512.7 2067.0 L1516.6 2052.5 L1524.0 2029.9 L1527.2 2012.2 L1530.4 1991.3 L1537.8 1990.7 L1545.5 1970.4 L1552.9 1966.2 L1561.0 1966.5 L1564.2 1951.1 L1568.1 1931.8 L1575.5 1921.5 L1584.2 1913.1 L1587.4 1893.1 L1591.6 1872.2 L1599.6 1862.6 L1602.8 1846.5 L1606.7 1828.8 L1610.9 1817.5 L1615.7 1804.6 L1620.5 1790.1 L1624.7 1777.3 L1628.6 1757.9 L1632.4 1738.6 L1635.7 1719.3 L1639.8 1683.3 L1644.7 1651.1 L1647.9 1618.9 L1651.1 1570.6 L1654.3 1532.0 L1657.6 1499.8 L1660.8 1467.6 L1663.0 1439.3 L1671.1 1437.1 L1673.0 1467.6 L1675.3 1506.3 L1677.5 1554.5 L1680.1 1602.8 L1683.3 1654.3 L1685.9 1696.2 L1689.7 1725.8 L1693.6 1757.9 L1697.8 1790.1 L1702.0 1817.5 L1706.5 1825.5 L1711.6 1832.6 L1717.1 1828.8 L1720.0 1827.1 L1728.3 1803.9 L1733.1 1783.0 L1737.9 1754.0 L1741.8 1731.5 L1746.0 1712.2 L1753.4 1696.1 L1757.3 1718.6 L1761.1 1741.2 L1765.3 1770.1 L1770.1 1802.3 L1775.0 1834.5 L1779.1 1861.9 L1788.5 1880.2 L1797.5 1861.9 L1802.3 1840.9 L1808.8 1808.8 L1815.2 1776.6 L1820.0 1744.4 L1824.2 1712.2 L1827.4 1680.0 L1831.3 1667.2 L1836.1 1635.0 L1839.3 1602.8 L1841.6 1573.9 L1845.8 1583.5 L1850.6 1593.8 L1857.0 1597.0 L1868.3 1599.6 L1871.5 1628.6 L1874.7 1654.3 L1877.0 1673.6 L1878.9 1680.0 L1882.1 1718.6 L1886.0 1760.5 L1889.9 1799.1 L1894.1 1834.5 L1896.3 1857.0 L1900.5 1882.8 L1904.4 1908.5 L1914.3 1908.5 L1918.8 1918.2 L1924.0 1927.2 L1933.6 1932.7 L1938.2 1939.1 L1943.3 1947.2 L1953.0 1940.7 L1957.5 1949.7 L1961.7 1956.8 L1971.3 1959.1 L1981.0 1956.2 L1985.2 1968.1 L1989.7 1982.6 L2000.3 1972.9 L2005.8 1980.3 L2011.5 1987.4 L2020.2 1996.1 L2025.1 1989.7 L2030.2 1983.5 L2035.7 1993.8 L2040.5 2002.5 L2050.2 2007.0 L2059.2 2006.7 L2067.9 2014.1 L2073.3 2020.6 L2079.8 2030.2 L2089.4 2033.4 L2100.1 2040.5 L2104.9 2050.8 L2110.7 2063.0 L2116.2 2056.6 L2121.6 2050.2 L2125.8 2064.7 L2131.3 2082.4 L2140.9 2077.5 L2151.6 2080.8 L2162.8 2079.8 L2167.7 2092.0 L2173.1 2106.5 L2183.8 2096.8 L2189.2 2087.2 L2195.0 2078.5 L2205.3 2095.2 L2215.0 2109.7 L2227.2 2104.2 L2237.5 2112.9 L2243.3 2123.6 L2249.1 2133.9" fill="none" stroke="#000000" stroke-width="4.5" stroke-linejoin="round" stroke-linecap="butt"/>
</g>
<g id="axis">
<rect x="44.2" y="2322.2" width="2203.7" height="4" fill="#000"/>
<rect x="44.2" y="2322.2" width="4.8" height="17.6" fill="#000"/>
<rect x="201.4" y="2322.2" width="4.6" height="9.6" fill="#000"/>
<rect x="358.3" y="2322.2" width="4.8" height="17.6" fill="#000"/>
<rect x="515.5" y="2322.2" width="4.6" height="9.6" fill="#000"/>
<rect x="672.5" y="2322.2" width="4.8" height="17.6" fill="#000"/>
<rect x="829.6" y="2322.2" width="4.6" height="9.6" fill="#000"/>
<rect x="986.6" y="2322.2" width="4.8" height="17.6" fill="#000"/>
<rect x="1143.7" y="2322.2" width="4.6" height="9.6" fill="#000"/>
<rect x="1300.7" y="2322.2" width="4.8" height="17.6" fill="#000"/>
<rect x="1457.9" y="2322.2" width="4.6" height="9.6" fill="#000"/>
<rect x="1614.8" y="2322.2" width="4.8" height="17.6" fill="#000"/>
<rect x="1772.0" y="2322.2" width="4.6" height="9.6" fill="#000"/>
<rect x="1928.9" y="2322.2" width="4.8" height="17.6" fill="#000"/>
<rect x="2086.1" y="2322.2" width="4.6" height="9.6" fill="#000"/>
<rect x="2243.1" y="2322.2" width="4.8" height="17.6" fill="#000"/>
</g>
<g id="ticklabels" fill="#000">
<text x="46.6" y="2393.5" text-anchor="middle" font-size="55" textLength="31.5" lengthAdjust="spacingAndGlyphs">0</text>
<text x="360.7" y="2393.5" text-anchor="middle" font-size="55" textLength="95.5" lengthAdjust="spacingAndGlyphs">250</text>
<text x="674.9" y="2393.5" text-anchor="middle" font-size="55" textLength="95.5" lengthAdjust="spacingAndGlyphs">500</text>
<text x="989.0" y="2393.5" text-anchor="middle" font-size="55" textLength="95.5" lengthAdjust="spacingAndGlyphs">750</text>
<text x="1303.1" y="2393.5" text-anchor="middle" font-size="55" textLength="125.0" lengthAdjust="spacingAndGlyphs">1000</text>
<text x="1617.2" y="2393.5" text-anchor="middle" font-size="55" textLength="125.0" lengthAdjust="spacingAndGlyphs">1250</text>
<text x="1931.3" y="2393.5" text-anchor="middle" font-size="55" textLength="125.0" lengthAdjust="spacingAndGlyphs">1500</text>
<text x="2243.5" y="2393.5" text-anchor="middle" font-size="55" textLength="125.0" lengthAdjust="spacingAndGlyphs">1750</text>
</g>
<g id="title" fill="#111">
<text x="888" y="2495.5" font-size="65" textLength="366" lengthAdjust="spacingAndGlyphs">wavenumber</text>
<text x="1274" y="2495.5" font-size="65" textLength="100" lengthAdjust="spacingAndGlyphs">(cm</text>
<text x="1358" y="2452" font-size="49" textLength="50" lengthAdjust="spacingAndGlyphs">−1</text>
<text x="1414" y="2495.5" font-size="65" textLength="22" lengthAdjust="spacingAndGlyphs">)</text>
</g>
<g id="annotations" fill="#000" stroke="#000" stroke-width="0.7">
<text transform="translate(356.0 318.5) rotate(-90)" font-size="51" textLength="135.0" lengthAdjust="spacingAndGlyphs"><tspan style="font-family:'Liberation Serif','DejaVu Serif',serif;font-size:114%">τ</tspan>(CH<tspan font-size="34" dy="17">3</tspan><tspan dy="-17">)</tspan></text>
<text transform="translate(908.3 290.0) rotate(-90)" font-size="55" textLength="158.0" lengthAdjust="spacingAndGlyphs"><tspan style="font-family:'Liberation Serif','DejaVu Serif',serif;font-size:112%">ρ</tspan>(CH<tspan font-size="35" dy="21">2</tspan><tspan dy="-21">)</tspan></text>
<text transform="translate(795.2 792.0) rotate(-90)" font-size="55" textLength="322.0" lengthAdjust="spacingAndGlyphs"><tspan style="font-family:'Liberation Serif','DejaVu Serif',serif;font-size:100%">Δ</tspan>(CCC/CCO)</text>
<text transform="translate(1382.1 462.5) rotate(-90)" font-size="55" textLength="137.5" lengthAdjust="spacingAndGlyphs"><tspan style="font-family:'Liberation Serif','DejaVu Serif',serif;font-size:112%">γ</tspan>(CH)</text>
<text transform="translate(1611.8 279.0) rotate(-90)" font-size="55" textLength="231.0" lengthAdjust="spacingAndGlyphs"><tspan style="font-family:'Liberation Serif','DejaVu Serif',serif;font-size:100%">δ</tspan>(CH<tspan font-size="35" dy="21">2</tspan><tspan dy="-21">)</tspan><tspan font-size="34" dy="15">twist</tspan></text>
<text transform="translate(1769.8 326.5) rotate(-90)" font-size="55" textLength="223.0" lengthAdjust="spacingAndGlyphs"><tspan style="font-family:'Liberation Serif','DejaVu Serif',serif;font-size:100%">δ</tspan>(CH<tspan font-size="35" dy="21">2</tspan><tspan dy="-21">)</tspan><tspan font-size="34" dy="15">wag</tspan></text>
<text transform="translate(1940.8 453.0) rotate(-90)" font-size="55" textLength="381.5" lengthAdjust="spacingAndGlyphs"><tspan style="font-family:'Liberation Serif','DejaVu Serif',serif;font-size:100%">δ</tspan>(OH)+<tspan style="font-family:'Liberation Serif','DejaVu Serif',serif;font-size:100%">δ</tspan>(CH<tspan font-size="35" dy="21">2</tspan><tspan dy="-21">)</tspan><tspan font-size="34" dy="15">sci</tspan></text>
</g>
<g id="labels">
<text x="2203.2" y="575.5" text-anchor="middle" font-size="62" font-weight="bold" fill="#E46C0A" textLength="297" lengthAdjust="spacingAndGlyphs">Sunflower</text>
<text x="2202.7" y="661.2" text-anchor="middle" font-size="62" font-weight="bold" fill="#E46C0A" textLength="70" lengthAdjust="spacingAndGlyphs">oil</text>
<text x="2129.5" y="1074.4" font-size="59" font-weight="bold" fill="#C70FB5" textLength="193" lengthAdjust="spacingAndGlyphs">EVO08</text>
<text x="2109.4" y="1297.4" font-size="59" font-weight="bold" fill="#7030A0" textLength="193" lengthAdjust="spacingAndGlyphs">EVO07</text>
<text x="2111.3" y="1549.2" font-size="59" font-weight="bold" fill="#0070C0" textLength="193" lengthAdjust="spacingAndGlyphs">EVO05</text>
<text x="2110.6" y="1793.8" font-size="59" font-weight="bold" fill="#00008B" textLength="193" lengthAdjust="spacingAndGlyphs">EVO03</text>
<text x="2109.1" y="2016.0" font-size="59" font-weight="bold" fill="#000000" textLength="193" lengthAdjust="spacingAndGlyphs">EVO01</text>
</g>
</svg></body></html>
